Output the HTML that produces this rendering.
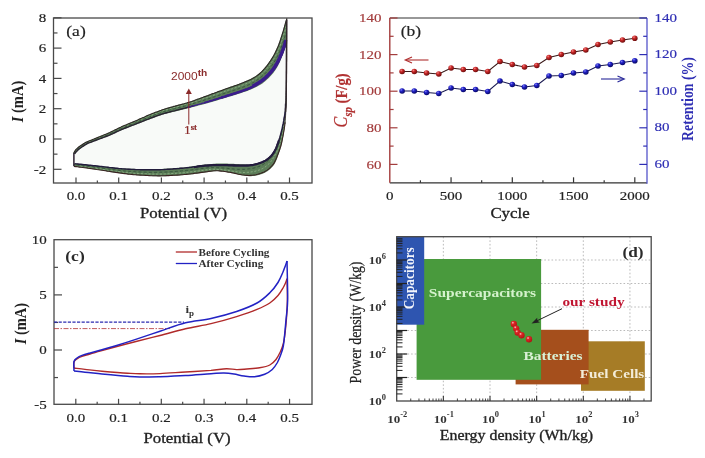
<!DOCTYPE html>
<html><head><meta charset="utf-8"><title>Figure</title>
<style>
html,body{margin:0;padding:0;background:#fff;}
body{width:705px;height:458px;overflow:hidden;font-family:"Liberation Serif",serif;}
svg{display:block;font-family:"Liberation Serif",serif;}
</style></head><body>
<svg width="705" height="458" viewBox="0 0 705 458">
<rect width="705" height="458" fill="#fff"/>
<g id="all" filter="url(#soft)">
<rect x="53.5" y="18" width="258.5" height="165" fill="#fff" stroke="#484848" stroke-width="1.3"/>
<line x1="76.0" y1="183" x2="76.0" y2="177.5" stroke="#484848" stroke-width="1.2" />
<text x="0" y="0" font-size="13.04" fill="#222" text-anchor="middle" font-weight="normal" font-style="normal" transform="translate(76.0 200.4) scale(1.15 1)"  stroke="#222" stroke-width="0.18">0.0</text>
<line x1="97.35" y1="183" x2="97.35" y2="180.5" stroke="#484848" stroke-width="1.2" />
<line x1="118.7" y1="183" x2="118.7" y2="177.5" stroke="#484848" stroke-width="1.2" />
<text x="0" y="0" font-size="13.04" fill="#222" text-anchor="middle" font-weight="normal" font-style="normal" transform="translate(118.7 200.4) scale(1.15 1)"  stroke="#222" stroke-width="0.18">0.1</text>
<line x1="140.05" y1="183" x2="140.05" y2="180.5" stroke="#484848" stroke-width="1.2" />
<line x1="161.4" y1="183" x2="161.4" y2="177.5" stroke="#484848" stroke-width="1.2" />
<text x="0" y="0" font-size="13.04" fill="#222" text-anchor="middle" font-weight="normal" font-style="normal" transform="translate(161.4 200.4) scale(1.15 1)"  stroke="#222" stroke-width="0.18">0.2</text>
<line x1="182.75" y1="183" x2="182.75" y2="180.5" stroke="#484848" stroke-width="1.2" />
<line x1="204.10000000000002" y1="183" x2="204.10000000000002" y2="177.5" stroke="#484848" stroke-width="1.2" />
<text x="0" y="0" font-size="13.04" fill="#222" text-anchor="middle" font-weight="normal" font-style="normal" transform="translate(204.10000000000002 200.4) scale(1.15 1)"  stroke="#222" stroke-width="0.18">0.3</text>
<line x1="225.45000000000002" y1="183" x2="225.45000000000002" y2="180.5" stroke="#484848" stroke-width="1.2" />
<line x1="246.8" y1="183" x2="246.8" y2="177.5" stroke="#484848" stroke-width="1.2" />
<text x="0" y="0" font-size="13.04" fill="#222" text-anchor="middle" font-weight="normal" font-style="normal" transform="translate(246.8 200.4) scale(1.15 1)"  stroke="#222" stroke-width="0.18">0.4</text>
<line x1="268.15" y1="183" x2="268.15" y2="180.5" stroke="#484848" stroke-width="1.2" />
<line x1="289.5" y1="183" x2="289.5" y2="177.5" stroke="#484848" stroke-width="1.2" />
<text x="0" y="0" font-size="13.04" fill="#222" text-anchor="middle" font-weight="normal" font-style="normal" transform="translate(289.5 200.4) scale(1.15 1)"  stroke="#222" stroke-width="0.18">0.5</text>
<line x1="53.5" y1="17.799999999999997" x2="61.5" y2="17.799999999999997" stroke="#484848" stroke-width="1.2" />
<text x="0" y="0" font-size="13.04" fill="#222" text-anchor="end" font-weight="normal" font-style="normal" transform="translate(46.3 21.999999999999996) scale(1.15 1)"  stroke="#222" stroke-width="0.18">8</text>
<line x1="53.5" y1="48.099999999999994" x2="61.5" y2="48.099999999999994" stroke="#484848" stroke-width="1.2" />
<text x="0" y="0" font-size="13.04" fill="#222" text-anchor="end" font-weight="normal" font-style="normal" transform="translate(46.3 52.3) scale(1.15 1)"  stroke="#222" stroke-width="0.18">6</text>
<line x1="53.5" y1="78.4" x2="61.5" y2="78.4" stroke="#484848" stroke-width="1.2" />
<text x="0" y="0" font-size="13.04" fill="#222" text-anchor="end" font-weight="normal" font-style="normal" transform="translate(46.3 82.60000000000001) scale(1.15 1)"  stroke="#222" stroke-width="0.18">4</text>
<line x1="53.5" y1="108.7" x2="61.5" y2="108.7" stroke="#484848" stroke-width="1.2" />
<text x="0" y="0" font-size="13.04" fill="#222" text-anchor="end" font-weight="normal" font-style="normal" transform="translate(46.3 112.9) scale(1.15 1)"  stroke="#222" stroke-width="0.18">2</text>
<line x1="53.5" y1="139.0" x2="61.5" y2="139.0" stroke="#484848" stroke-width="1.2" />
<text x="0" y="0" font-size="13.04" fill="#222" text-anchor="end" font-weight="normal" font-style="normal" transform="translate(46.3 143.2) scale(1.15 1)"  stroke="#222" stroke-width="0.18">0</text>
<line x1="53.5" y1="169.3" x2="61.5" y2="169.3" stroke="#484848" stroke-width="1.2" />
<text x="0" y="0" font-size="13.04" fill="#222" text-anchor="end" font-weight="normal" font-style="normal" transform="translate(46.3 173.5) scale(1.15 1)"  stroke="#222" stroke-width="0.18">-2</text>
<line x1="53.5" y1="32.95" x2="57.5" y2="32.95" stroke="#484848" stroke-width="1.2" />
<line x1="53.5" y1="63.25" x2="57.5" y2="63.25" stroke="#484848" stroke-width="1.2" />
<line x1="53.5" y1="93.55" x2="57.5" y2="93.55" stroke="#484848" stroke-width="1.2" />
<line x1="53.5" y1="123.85" x2="57.5" y2="123.85" stroke="#484848" stroke-width="1.2" />
<line x1="53.5" y1="154.15" x2="57.5" y2="154.15" stroke="#484848" stroke-width="1.2" />
<text x="0" y="0" font-size="14.50" fill="#222" text-anchor="middle" font-weight="bold" font-style="normal" transform="translate(23 101.5) scale(1.15 1) rotate(-90)" ><tspan font-style="italic">I</tspan> (mA)</text>
<text x="0" y="0" font-size="14.61" fill="#222" text-anchor="middle" font-weight="normal" font-style="normal" transform="translate(183.5 218.4) scale(1.15 1)"  stroke="#222" stroke-width="0.32">Potential (V)</text>
<text x="0" y="0" font-size="15.22" fill="#222" text-anchor="middle" font-weight="normal" font-style="normal" transform="translate(76 36) scale(1.15 1)"  stroke="#222" stroke-width="0.18">(a)</text>
<path d="M74.8,154.0 C75.1,153.7 75.8,152.7 76.5,152.0 C77.2,151.3 78.1,150.4 79.0,149.6 C79.9,148.8 80.7,148.3 82.0,147.4 C83.3,146.5 85.2,145.1 87.0,144.2 C88.8,143.3 90.7,142.7 92.5,142.0 C94.3,141.3 95.2,140.9 98.0,139.9 C100.8,138.9 105.3,137.3 109.0,135.8 C112.7,134.3 117.2,132.0 120.0,130.8 C122.8,129.6 122.5,129.8 125.5,128.6 C128.5,127.4 133.9,125.4 138.0,123.8 C142.1,122.2 145.8,120.7 150.0,119.2 C154.2,117.7 158.7,115.9 163.0,114.6 C167.3,113.3 171.5,112.4 176.0,111.3 C180.5,110.2 184.8,109.1 190.0,107.8 C195.2,106.5 201.7,104.8 207.5,103.2 C213.3,101.6 219.2,99.8 225.0,98.0 C230.8,96.2 238.0,94.0 242.4,92.6 C246.8,91.1 248.5,90.6 251.4,89.3 C254.3,88.0 257.5,86.5 259.9,85.0 C262.3,83.5 263.9,82.3 266.0,80.5 C268.1,78.7 270.6,76.2 272.4,74.0 C274.2,71.8 275.6,69.8 277.0,67.5 C278.4,65.2 279.4,63.0 280.5,60.5 C281.6,58.0 282.9,54.9 283.8,52.5 C284.7,50.1 285.5,47.1 285.8,46.0 L286.2,46 " fill="none"/>
<path d="M74.8,154.0 L74.9,153.8 L75.1,153.6 L75.3,153.4 L75.5,153.2 L75.7,152.9 L76.0,152.6 L76.2,152.3 L76.5,152.0 L76.8,151.7 L77.1,151.4 L77.4,151.1 L77.7,150.8 L78.0,150.5 L78.3,150.2 L78.7,149.9 L79.0,149.6 L79.3,149.3 L79.7,149.1 L80.0,148.8 L80.3,148.5 L80.7,148.3 L81.1,148.0 L81.5,147.7 L82.0,147.4 L82.5,147.0 L83.1,146.6 L83.7,146.2 L84.3,145.8 L85.0,145.4 L85.7,145.0 L86.3,144.6 L87.0,144.2 L87.7,143.9 L88.3,143.6 L89.0,143.3 L89.7,143.0 L90.4,142.8 L91.1,142.5 L91.8,142.3 L92.5,142.0 L93.1,141.7 L93.7,141.5 L94.3,141.3 L94.9,141.1 L95.5,140.8 L96.2,140.6 L97.0,140.3 L98.0,139.9 L99.1,139.5 L100.4,139.0 L101.7,138.5 L103.2,138.0 L104.6,137.5 L106.1,136.9 L107.6,136.4 L109.0,135.8 L110.4,135.2 L111.9,134.5 L113.4,133.9 L114.8,133.2 L116.3,132.5 L117.6,131.9 L118.9,131.3 L120.0,130.8 L120.9,130.4 L121.6,130.1 L122.2,129.9 L122.7,129.7 L123.2,129.5 L123.8,129.3 L124.5,129.0 L125.5,128.6 L126.7,128.1 L128.1,127.6 L129.7,127.0 L131.3,126.3 L133.0,125.7 L134.7,125.0 L136.4,124.4 L138.0,123.8 L139.5,123.2 L141.0,122.6 L142.5,122.1 L144.0,121.5 L145.4,120.9 L146.9,120.3 L148.5,119.8 L150.0,119.2 L151.6,118.6 L153.2,118.0 L154.8,117.4 L156.4,116.8 L158.1,116.2 L159.7,115.7 L161.4,115.1 L163.0,114.6 L164.6,114.1 L166.2,113.7 L167.8,113.3 L169.4,112.9 L171.1,112.5 L172.7,112.1 L174.3,111.7 L176.0,111.3 L177.7,110.9 L179.3,110.5 L181.0,110.1 L182.7,109.6 L184.4,109.2 L186.2,108.8 L188.1,108.3 L190.0,107.8 L192.0,107.3 L194.1,106.7 L196.3,106.2 L198.5,105.6 L200.8,105.0 L203.0,104.4 L205.3,103.8 L207.5,103.2 L209.7,102.6 L211.9,101.9 L214.1,101.3 L216.3,100.7 L218.4,100.0 L220.6,99.3 L222.8,98.7 L225.0,98.0 L227.2,97.3 L229.6,96.6 L231.9,95.9 L234.2,95.2 L236.5,94.5 L238.6,93.8 L240.6,93.2 L242.4,92.6 L243.9,92.1 L245.3,91.7 L246.4,91.3 L247.5,90.9 L248.4,90.5 L249.4,90.1 L250.4,89.7 L251.4,89.3 L252.5,88.8 L253.6,88.3 L254.7,87.8 L255.8,87.2 L256.9,86.7 L258.0,86.1 L259.0,85.6 L259.9,85.0 L260.8,84.5 L261.6,83.9 L262.4,83.4 L263.1,82.9 L263.8,82.3 L264.5,81.8 L265.2,81.2 L266.0,80.5 L266.8,79.8 L267.6,79.0 L268.5,78.2 L269.3,77.4 L270.1,76.5 L270.9,75.7 L271.7,74.8 L272.4,74.0 L273.1,73.2 L273.7,72.4 L274.3,71.6 L274.9,70.8 L275.4,70.0 L276.0,69.2 L276.5,68.3 L277.0,67.5 L277.5,66.7 L278.0,65.8 L278.4,65.0 L278.8,64.1 L279.3,63.2 L279.7,62.3 L280.1,61.4 L280.5,60.5 L280.9,59.5 L281.4,58.5 L281.8,57.5 L282.2,56.5 L282.7,55.4 L283.1,54.4 L283.5,53.4 L283.8,52.5 L284.1,51.6 L284.4,50.6 L284.7,49.7 L285.0,48.8 L285.3,47.9 L285.5,47.1 L285.7,46.5 L285.8,46.0 L286.2,46.0 L286.2,48.7 L286.2,52.2 L286.2,56.4 L286.1,61.1 L286.1,66.0 L286.1,71.0 L286.1,75.7 L286.0,80.0 L285.9,84.1 L285.9,88.3 L285.8,92.5 L285.7,96.6 L285.6,100.5 L285.5,104.1 L285.4,107.3 L285.3,110.0 L285.2,112.1 L285.0,113.7 L284.9,114.8 L284.8,115.7 L284.6,116.4 L284.5,117.0 L284.3,117.8 L284.1,118.7 L283.9,119.8 L283.7,120.9 L283.5,122.0 L283.3,123.1 L283.0,124.2 L282.8,125.3 L282.6,126.4 L282.3,127.5 L282.0,128.6 L281.8,129.7 L281.5,130.8 L281.2,131.8 L280.9,132.9 L280.6,134.0 L280.3,135.1 L280.0,136.2 L279.7,137.3 L279.3,138.4 L279.0,139.5 L278.6,140.6 L278.3,141.7 L277.9,142.8 L277.4,143.9 L277.0,145.0 L276.5,146.1 L276.0,147.3 L275.5,148.4 L275.0,149.6 L274.4,150.7 L273.9,151.8 L273.3,152.8 L272.7,153.7 L272.1,154.5 L271.5,155.3 L270.9,156.0 L270.2,156.7 L269.5,157.3 L268.9,157.9 L268.1,158.5 L267.4,159.0 L266.6,159.5 L265.9,160.0 L265.1,160.5 L264.3,160.9 L263.4,161.3 L262.5,161.7 L261.5,162.1 L260.5,162.4 L259.3,162.7 L258.1,163.0 L256.8,163.3 L255.4,163.6 L254.0,163.8 L252.6,164.0 L251.3,164.2 L250.0,164.3 L248.8,164.4 L247.6,164.4 L246.5,164.4 L245.4,164.4 L244.3,164.3 L243.2,164.3 L242.1,164.2 L241.0,164.2 L239.9,164.2 L238.9,164.1 L237.9,164.1 L236.8,164.0 L235.8,164.0 L234.8,163.9 L233.7,163.8 L232.5,163.8 L231.3,163.8 L229.9,163.7 L228.6,163.7 L227.2,163.6 L225.8,163.6 L224.4,163.5 L223.2,163.5 L222.0,163.5 L221.0,163.5 L220.2,163.5 L219.4,163.5 L218.7,163.5 L218.0,163.5 L217.2,163.6 L216.2,163.6 L215.0,163.7 L213.6,163.8 L212.0,163.9 L210.3,164.1 L208.5,164.2 L206.6,164.4 L204.7,164.6 L202.8,164.8 L201.0,165.0 L199.2,165.2 L197.4,165.5 L195.7,165.7 L193.9,166.0 L192.1,166.3 L190.3,166.5 L188.5,166.8 L186.7,167.0 L184.9,167.2 L183.1,167.4 L181.4,167.5 L179.6,167.7 L177.8,167.8 L176.0,167.9 L174.3,168.1 L172.5,168.2 L170.7,168.3 L169.0,168.4 L167.2,168.6 L165.5,168.7 L163.7,168.8 L161.9,168.9 L160.2,168.9 L158.4,169.0 L156.6,169.0 L154.8,169.1 L153.0,169.1 L151.2,169.1 L149.4,169.1 L147.6,169.0 L145.8,169.0 L144.0,169.0 L142.2,169.0 L140.5,169.0 L138.7,168.9 L137.0,168.9 L135.2,168.9 L133.5,168.8 L131.7,168.8 L130.0,168.7 L128.2,168.6 L126.5,168.5 L124.7,168.4 L123.0,168.3 L121.2,168.1 L119.5,168.0 L117.7,167.9 L116.0,167.7 L114.3,167.5 L112.6,167.4 L110.9,167.2 L109.3,167.0 L107.6,166.8 L105.9,166.6 L104.2,166.4 L102.5,166.2 L100.7,166.0 L98.9,165.8 L97.1,165.6 L95.2,165.4 L93.4,165.2 L91.6,165.1 L89.8,164.9 L88.0,164.7 L86.2,164.5 L84.3,164.3 L82.3,164.1 L80.4,164.0 L78.6,163.8 L77.0,163.6 L75.6,163.5 L74.6,163.4 Z" fill="#f8faf8"/>
<path d="M73.6,153.0 L73.7,152.8 L73.9,152.5 L74.0,152.2 L74.2,151.8 L74.5,151.4 L74.7,151.0 L74.9,150.7 L75.2,150.3 L75.5,150.0 L75.8,149.6 L76.1,149.3 L76.4,148.9 L76.7,148.6 L77.1,148.3 L77.4,147.9 L77.8,147.6 L78.2,147.3 L78.6,147.0 L79.0,146.6 L79.4,146.3 L79.9,146.0 L80.3,145.7 L80.9,145.4 L81.4,145.0 L82.0,144.6 L82.6,144.2 L83.3,143.8 L84.0,143.3 L84.7,142.9 L85.4,142.5 L86.1,142.1 L86.8,141.7 L87.5,141.4 L88.2,141.1 L88.9,140.8 L89.5,140.5 L90.2,140.3 L90.9,140.0 L91.6,139.8 L92.3,139.5 L92.9,139.2 L93.5,139.0 L94.1,138.7 L94.7,138.5 L95.3,138.2 L96.0,137.9 L96.8,137.6 L97.7,137.2 L98.8,136.8 L100.0,136.3 L101.4,135.7 L102.8,135.2 L104.3,134.6 L105.7,134.0 L107.2,133.4 L108.6,132.8 L110.0,132.2 L111.4,131.5 L112.9,130.8 L114.4,130.0 L115.8,129.3 L117.1,128.7 L118.4,128.0 L119.5,127.5 L120.4,127.1 L121.2,126.7 L121.8,126.5 L122.4,126.2 L123.0,126.0 L123.7,125.7 L124.5,125.3 L125.5,124.9 L126.8,124.4 L128.2,123.7 L129.7,123.1 L131.4,122.4 L133.1,121.6 L134.8,120.9 L136.4,120.2 L138.0,119.5 L139.5,118.8 L141.0,118.2 L142.5,117.5 L144.0,116.9 L145.4,116.2 L146.9,115.6 L148.5,114.9 L150.0,114.3 L151.6,113.7 L153.2,113.0 L154.8,112.4 L156.4,111.7 L158.1,111.1 L159.7,110.5 L161.4,109.9 L163.0,109.3 L164.6,108.8 L166.2,108.3 L167.8,107.8 L169.4,107.3 L171.1,106.9 L172.7,106.4 L174.3,106.0 L176.0,105.5 L177.7,105.0 L179.3,104.6 L181.0,104.2 L182.7,103.7 L184.4,103.2 L186.2,102.8 L188.1,102.2 L190.0,101.6 L192.0,100.9 L194.1,100.2 L196.3,99.4 L198.5,98.6 L200.8,97.7 L203.0,96.9 L205.3,96.0 L207.5,95.2 L209.7,94.4 L211.9,93.6 L214.1,92.8 L216.3,91.9 L218.4,91.1 L220.6,90.3 L222.8,89.5 L225.0,88.7 L227.2,87.9 L229.5,87.1 L231.7,86.3 L234.0,85.6 L236.2,84.8 L238.4,84.0 L240.5,83.3 L242.4,82.5 L244.2,81.8 L246.0,81.0 L247.6,80.3 L249.2,79.6 L250.8,78.9 L252.2,78.1 L253.6,77.3 L255.0,76.5 L256.3,75.7 L257.4,74.8 L258.5,74.0 L259.6,73.1 L260.6,72.2 L261.6,71.2 L262.6,70.2 L263.7,69.0 L264.8,67.7 L266.0,66.3 L267.1,64.8 L268.3,63.2 L269.4,61.6 L270.5,60.0 L271.5,58.5 L272.4,57.0 L273.2,55.6 L274.0,54.2 L274.7,52.9 L275.3,51.6 L275.9,50.3 L276.5,49.0 L277.1,47.8 L277.6,46.5 L278.1,45.3 L278.6,44.1 L279.0,43.0 L279.4,41.8 L279.8,40.7 L280.2,39.5 L280.6,38.3 L281.0,37.0 L281.5,35.6 L281.9,34.0 L282.4,32.4 L282.9,30.8 L283.4,29.2 L283.8,27.7 L284.2,26.2 L284.6,25.0 L284.9,23.9 L285.2,22.9 L285.4,21.9 L285.6,21.1 L285.8,20.4 L286.0,19.7 L286.1,19.1 L286.2,18.7 L287.1,18.5 L286.3,45.0 L285.8,46.0 L285.7,46.5 L285.5,47.1 L285.3,47.9 L285.0,48.8 L284.7,49.7 L284.4,50.6 L284.1,51.6 L283.8,52.5 L283.5,53.4 L283.1,54.4 L282.7,55.4 L282.2,56.5 L281.8,57.5 L281.4,58.5 L280.9,59.5 L280.5,60.5 L280.1,61.4 L279.7,62.3 L279.3,63.2 L278.8,64.1 L278.4,65.0 L278.0,65.8 L277.5,66.7 L277.0,67.5 L276.5,68.3 L276.0,69.2 L275.4,70.0 L274.9,70.8 L274.3,71.6 L273.7,72.4 L273.1,73.2 L272.4,74.0 L271.7,74.8 L270.9,75.7 L270.1,76.5 L269.3,77.4 L268.5,78.2 L267.6,79.0 L266.8,79.8 L266.0,80.5 L265.2,81.2 L264.5,81.8 L263.8,82.3 L263.1,82.9 L262.4,83.4 L261.6,83.9 L260.8,84.5 L259.9,85.0 L259.0,85.6 L258.0,86.1 L256.9,86.7 L255.8,87.2 L254.7,87.8 L253.6,88.3 L252.5,88.8 L251.4,89.3 L250.4,89.7 L249.4,90.1 L248.4,90.5 L247.5,90.9 L246.4,91.3 L245.3,91.7 L243.9,92.1 L242.4,92.6 L240.6,93.2 L238.6,93.8 L236.5,94.5 L234.2,95.2 L231.9,95.9 L229.6,96.6 L227.2,97.3 L225.0,98.0 L222.8,98.7 L220.6,99.3 L218.4,100.0 L216.3,100.7 L214.1,101.3 L211.9,101.9 L209.7,102.6 L207.5,103.2 L205.3,103.8 L203.0,104.4 L200.8,105.0 L198.5,105.6 L196.3,106.2 L194.1,106.7 L192.0,107.3 L190.0,107.8 L188.1,108.3 L186.2,108.8 L184.4,109.2 L182.7,109.6 L181.0,110.1 L179.3,110.5 L177.7,110.9 L176.0,111.3 L174.3,111.7 L172.7,112.1 L171.1,112.5 L169.4,112.9 L167.8,113.3 L166.2,113.7 L164.6,114.1 L163.0,114.6 L161.4,115.1 L159.7,115.7 L158.1,116.2 L156.4,116.8 L154.8,117.4 L153.2,118.0 L151.6,118.6 L150.0,119.2 L148.5,119.8 L146.9,120.3 L145.4,120.9 L144.0,121.5 L142.5,122.1 L141.0,122.6 L139.5,123.2 L138.0,123.8 L136.4,124.4 L134.7,125.0 L133.0,125.7 L131.3,126.3 L129.7,127.0 L128.1,127.6 L126.7,128.1 L125.5,128.6 L124.5,129.0 L123.8,129.3 L123.2,129.5 L122.7,129.7 L122.2,129.9 L121.6,130.1 L120.9,130.4 L120.0,130.8 L118.9,131.3 L117.6,131.9 L116.3,132.5 L114.8,133.2 L113.4,133.9 L111.9,134.5 L110.4,135.2 L109.0,135.8 L107.6,136.4 L106.1,136.9 L104.6,137.5 L103.2,138.0 L101.7,138.5 L100.4,139.0 L99.1,139.5 L98.0,139.9 L97.0,140.3 L96.2,140.6 L95.5,140.8 L94.9,141.1 L94.3,141.3 L93.7,141.5 L93.1,141.7 L92.5,142.0 L91.8,142.3 L91.1,142.5 L90.4,142.8 L89.7,143.0 L89.0,143.3 L88.3,143.6 L87.7,143.9 L87.0,144.2 L86.3,144.6 L85.7,145.0 L85.0,145.4 L84.3,145.8 L83.7,146.2 L83.1,146.6 L82.5,147.0 L82.0,147.4 L81.5,147.7 L81.1,148.0 L80.7,148.3 L80.3,148.5 L80.0,148.8 L79.7,149.1 L79.3,149.3 L79.0,149.6 L78.7,149.9 L78.3,150.2 L78.0,150.5 L77.7,150.8 L77.4,151.1 L77.1,151.4 L76.8,151.7 L76.5,152.0 L76.2,152.3 L76.0,152.6 L75.7,152.9 L75.5,153.2 L75.3,153.4 L75.1,153.6 L74.9,153.8 L74.8,154.0 Z" fill="#5b7d58"/>
<path d="M287.0,18.5 L287.0,21.7 L287.0,26.0 L286.9,31.1 L286.9,36.8 L286.9,42.7 L286.9,48.8 L286.8,54.6 L286.8,60.0 L286.8,65.3 L286.7,70.8 L286.7,76.4 L286.6,82.0 L286.6,87.3 L286.5,92.1 L286.5,96.4 L286.4,100.0 L286.3,102.7 L286.3,104.6 L286.2,106.0 L286.2,107.0 L286.1,107.7 L286.1,108.3 L286.0,109.0 L286.0,110.0 L286.0,111.1 L285.9,112.3 L285.9,113.4 L285.8,114.4 L285.8,115.5 L285.7,116.5 L285.7,117.6 L285.6,118.7 L285.5,119.8 L285.4,120.9 L285.3,122.0 L285.2,123.1 L285.1,124.2 L285.0,125.3 L284.8,126.4 L284.7,127.5 L284.6,128.6 L284.4,129.7 L284.2,130.8 L284.1,131.8 L283.9,132.9 L283.7,134.0 L283.5,135.1 L283.3,136.2 L283.1,137.3 L282.9,138.4 L282.7,139.5 L282.5,140.6 L282.3,141.7 L282.0,142.8 L281.8,143.9 L281.5,145.0 L281.2,146.1 L280.9,147.1 L280.6,148.2 L280.3,149.2 L280.0,150.3 L279.6,151.4 L279.2,152.5 L278.8,153.7 L278.3,155.0 L277.9,156.3 L277.4,157.7 L276.9,159.1 L276.3,160.4 L275.7,161.8 L275.1,163.0 L274.4,164.2 L273.7,165.3 L272.9,166.3 L272.0,167.2 L271.2,168.1 L270.3,169.0 L269.3,169.8 L268.4,170.5 L267.4,171.2 L266.4,171.8 L265.3,172.4 L264.3,173.0 L263.2,173.5 L262.0,173.9 L260.9,174.3 L259.8,174.7 L258.7,175.0 L257.6,175.3 L256.5,175.5 L255.4,175.7 L254.4,175.9 L253.3,176.0 L252.2,176.1 L251.1,176.2 L250.0,176.2 L248.9,176.2 L247.8,176.1 L246.7,176.0 L245.6,175.9 L244.5,175.7 L243.4,175.6 L242.3,175.4 L241.2,175.2 L240.1,175.0 L239.1,174.8 L238.0,174.5 L237.0,174.2 L235.9,174.0 L234.8,173.7 L233.7,173.4 L232.5,173.2 L231.2,173.0 L229.9,172.7 L228.5,172.5 L227.1,172.2 L225.8,172.0 L224.4,171.8 L223.2,171.6 L222.0,171.5 L221.0,171.4 L220.2,171.3 L219.4,171.2 L218.7,171.1 L218.0,171.1 L217.2,171.1 L216.2,171.1 L215.0,171.2 L213.6,171.3 L212.0,171.5 L210.3,171.7 L208.5,172.0 L206.6,172.2 L204.7,172.5 L202.8,172.8 L201.0,173.0 L199.2,173.2 L197.4,173.5 L195.7,173.7 L193.9,173.9 L192.1,174.2 L190.3,174.4 L188.5,174.6 L186.7,174.8 L184.9,175.0 L183.1,175.1 L181.4,175.3 L179.6,175.4 L177.8,175.5 L176.0,175.6 L174.3,175.7 L172.5,175.8 L170.7,175.9 L169.0,176.0 L167.2,176.1 L165.4,176.2 L163.7,176.2 L161.9,176.3 L160.2,176.3 L158.4,176.3 L156.6,176.3 L154.9,176.2 L153.1,176.2 L151.3,176.1 L149.5,176.0 L147.8,175.9 L146.0,175.8 L144.2,175.7 L142.4,175.6 L140.6,175.5 L138.9,175.4 L137.1,175.2 L135.3,175.1 L133.5,174.9 L131.8,174.8 L130.0,174.6 L128.2,174.4 L126.5,174.2 L124.7,174.0 L123.0,173.7 L121.2,173.5 L119.5,173.2 L117.7,173.0 L116.0,172.7 L114.3,172.4 L112.6,172.2 L110.9,171.9 L109.3,171.7 L107.6,171.4 L105.9,171.1 L104.2,170.9 L102.5,170.6 L100.7,170.3 L98.9,170.0 L97.1,169.8 L95.3,169.5 L93.4,169.2 L91.6,168.9 L89.8,168.7 L88.0,168.4 L86.1,168.1 L84.1,167.9 L82.1,167.6 L80.1,167.4 L78.2,167.1 L76.5,166.9 L75.1,166.7 L74.0,166.6 L73.6,164.5 L74.6,163.4 L75.6,163.5 L77.0,163.6 L78.6,163.8 L80.4,164.0 L82.3,164.1 L84.3,164.3 L86.2,164.5 L88.0,164.7 L89.8,164.9 L91.6,165.1 L93.4,165.2 L95.2,165.4 L97.1,165.6 L98.9,165.8 L100.7,166.0 L102.5,166.2 L104.2,166.4 L105.9,166.6 L107.6,166.8 L109.3,167.0 L110.9,167.2 L112.6,167.4 L114.3,167.5 L116.0,167.7 L117.7,167.9 L119.5,168.0 L121.2,168.1 L123.0,168.3 L124.7,168.4 L126.5,168.5 L128.2,168.6 L130.0,168.7 L131.7,168.8 L133.5,168.8 L135.2,168.9 L137.0,168.9 L138.7,168.9 L140.5,169.0 L142.2,169.0 L144.0,169.0 L145.8,169.0 L147.6,169.0 L149.4,169.1 L151.2,169.1 L153.0,169.1 L154.8,169.1 L156.6,169.0 L158.4,169.0 L160.2,168.9 L161.9,168.9 L163.7,168.8 L165.5,168.7 L167.2,168.6 L169.0,168.4 L170.7,168.3 L172.5,168.2 L174.3,168.1 L176.0,167.9 L177.8,167.8 L179.6,167.7 L181.4,167.5 L183.1,167.4 L184.9,167.2 L186.7,167.0 L188.5,166.8 L190.3,166.5 L192.1,166.3 L193.9,166.0 L195.7,165.7 L197.4,165.5 L199.2,165.2 L201.0,165.0 L202.8,164.8 L204.7,164.6 L206.6,164.4 L208.5,164.2 L210.3,164.1 L212.0,163.9 L213.6,163.8 L215.0,163.7 L216.2,163.6 L217.2,163.6 L218.0,163.5 L218.7,163.5 L219.4,163.5 L220.2,163.5 L221.0,163.5 L222.0,163.5 L223.2,163.5 L224.4,163.5 L225.8,163.6 L227.2,163.6 L228.6,163.7 L229.9,163.7 L231.3,163.8 L232.5,163.8 L233.7,163.8 L234.8,163.9 L235.8,164.0 L236.8,164.0 L237.9,164.1 L238.9,164.1 L239.9,164.2 L241.0,164.2 L242.1,164.2 L243.2,164.3 L244.3,164.3 L245.4,164.4 L246.5,164.4 L247.6,164.4 L248.8,164.4 L250.0,164.3 L251.3,164.2 L252.6,164.0 L254.0,163.8 L255.4,163.6 L256.8,163.3 L258.1,163.0 L259.3,162.7 L260.5,162.4 L261.5,162.1 L262.5,161.7 L263.4,161.3 L264.3,160.9 L265.1,160.5 L265.9,160.0 L266.6,159.5 L267.4,159.0 L268.1,158.5 L268.9,157.9 L269.5,157.3 L270.2,156.7 L270.9,156.0 L271.5,155.3 L272.1,154.5 L272.7,153.7 L273.3,152.8 L273.9,151.8 L274.4,150.7 L275.0,149.6 L275.5,148.4 L276.0,147.3 L276.5,146.1 L277.0,145.0 L277.4,143.9 L277.9,142.8 L278.3,141.7 L278.6,140.6 L279.0,139.5 L279.3,138.4 L279.7,137.3 L280.0,136.2 L280.3,135.1 L280.6,134.0 L280.9,132.9 L281.2,131.8 L281.5,130.8 L281.8,129.7 L282.0,128.6 L282.3,127.5 L282.6,126.4 L282.8,125.3 L283.0,124.2 L283.3,123.1 L283.5,122.0 L283.7,120.9 L283.9,119.8 L284.1,118.7 L284.3,117.8 L284.5,117.0 L284.6,116.4 L284.8,115.7 L284.9,114.8 L285.0,113.7 L285.2,112.1 L285.3,110.0 L285.4,107.3 L285.5,104.1 L285.6,100.5 L285.7,96.6 L285.8,92.5 L285.9,88.3 L285.9,84.1 L286.0,80.0 L286.1,75.7 L286.1,71.0 L286.1,66.0 L286.1,61.1 L286.2,56.4 L286.2,52.2 L286.2,48.7 L286.2,46.0 Z" fill="#5b7d58"/>
<path d="M73.9,153.3 L74.6,152.2 L75.3,151.1 L76.2,150.1 L77.1,149.1 L78.0,148.2 L79.1,147.4 L80.1,146.7 L81.2,145.9 L82.3,145.2 L83.4,144.5 L84.5,143.8 L85.6,143.1 L86.7,142.5 L87.9,141.9 L89.1,141.4 L90.4,141.0 L91.6,140.5 L92.8,140.0 L94.0,139.5 L95.2,139.0 L96.4,138.5 L97.6,138.0 L98.9,137.5 L100.1,137.1 L101.3,136.6 L102.5,136.1 L103.7,135.7 L105.0,135.2 L106.2,134.7 L107.4,134.2 L108.6,133.7 L109.8,133.2 L111.0,132.6 L112.1,132.0 L113.3,131.5 L114.5,130.9 L115.7,130.3 L116.9,129.7 L118.0,129.2 L119.2,128.6 L120.4,128.1 L121.6,127.5 L122.8,127.0 L124.0,126.5 L125.2,126.0 L126.4,125.5 L127.6,125.0 L128.8,124.5 L130.0,124.0 L131.3,123.5 L132.5,123.0 L133.7,122.5 L134.9,122.0 L136.1,121.5 L137.3,121.0 L138.5,120.5 L139.7,120.0 L140.9,119.5 L142.1,118.9 L143.3,118.4 L144.5,117.9 L145.7,117.4 L146.9,116.9 L148.1,116.4 L149.3,115.9 L150.6,115.4 L151.8,114.9 L153.0,114.5 L154.2,114.0 L155.4,113.5 L156.6,113.0 L157.9,112.6 L159.1,112.1 L160.3,111.7 L161.6,111.3 L162.8,110.8 L164.0,110.4 L165.3,110.1 L166.6,109.7 L167.8,109.3 L169.1,109.0 L170.3,108.6 L171.6,108.3 L172.9,107.9 L174.1,107.6 L175.4,107.3 L176.6,106.9 L177.9,106.6 L179.2,106.3 L180.4,105.9 L181.7,105.6 L183.0,105.3 L184.2,104.9 L185.5,104.6 L186.8,104.2 L188.0,103.9 L189.3,103.5 L190.5,103.1 L191.8,102.7 L193.0,102.3 L194.2,101.9 L195.5,101.4 L196.7,101.0 L197.9,100.6 L199.2,100.2 L200.4,99.7 L201.7,99.3 L202.9,98.9 L204.1,98.5 L205.4,98.0 L206.6,97.6 L207.8,97.2 L209.1,96.8 L210.3,96.3 L211.5,95.9 L212.8,95.5 L214.0,95.1 L215.2,94.6 L216.5,94.2 L217.7,93.8 L218.9,93.3 L220.2,92.9 L221.4,92.5 L222.6,92.0 L223.9,91.6 L225.1,91.2 L226.4,90.8 L227.6,90.4 L228.8,89.9 L230.1,89.5 L231.3,89.1 L232.6,88.7 L233.8,88.3 L235.0,87.9 L236.3,87.4 L237.5,87.0 L238.7,86.6 L240.0,86.1 L241.2,85.6 L242.4,85.2 L243.6,84.7 L244.8,84.2 L246.1,83.7 L247.3,83.2 L248.5,82.7 L249.6,82.1 L250.8,81.6 L252.0,81.0 L253.1,80.4 L254.2,79.7 L255.3,79.0 L256.4,78.3 L257.5,77.5 L258.5,76.8 L259.5,75.9 L260.5,75.1 L261.5,74.2 L262.4,73.3 L263.3,72.4 L264.2,71.5 L265.1,70.6 L266.0,69.6 L266.8,68.6 L267.6,67.6 L268.5,66.6 L269.3,65.6 L270.0,64.6 L270.8,63.5 L271.6,62.5 L272.3,61.4 L273.0,60.3 L273.7,59.2 L274.3,58.1 L275.0,56.9 L275.6,55.8 L276.2,54.6 L276.8,53.5 L277.3,52.3 L277.9,51.1 L278.4,49.9 L278.9,48.7 L279.4,47.5 L279.8,46.3 L280.3,45.1 L280.7,43.8 L281.2,42.6 L281.6,41.4 L282.0,40.1 L282.4,38.9 L282.8,37.6 L283.2,36.4 L283.6,35.2 L284.0,33.9 L284.4,32.7 L284.8,31.4 L285.1,30.1 L285.4,28.9 L285.8,27.6 L286.1,26.3" fill="none" stroke="#8fb086" stroke-width="0.9" stroke-dasharray="2.2 1.6"/>
<path d="M74.2,153.5 L74.9,152.4 L75.7,151.4 L76.5,150.4 L77.4,149.5 L78.4,148.6 L79.4,147.8 L80.4,147.1 L81.5,146.4 L82.5,145.6 L83.6,144.9 L84.7,144.2 L85.8,143.6 L86.9,142.9 L88.1,142.4 L89.3,141.9 L90.5,141.5 L91.7,141.0 L92.9,140.6 L94.1,140.1 L95.3,139.6 L96.5,139.1 L97.7,138.6 L98.9,138.2 L100.1,137.7 L101.3,137.2 L102.5,136.8 L103.7,136.3 L104.9,135.9 L106.1,135.4 L107.3,134.9 L108.5,134.4 L109.7,133.9 L110.8,133.4 L112.0,132.8 L113.2,132.3 L114.3,131.7 L115.5,131.2 L116.6,130.6 L117.8,130.1 L119.0,129.5 L120.1,129.0 L121.3,128.5 L122.5,128.0 L123.7,127.5 L124.9,127.0 L126.1,126.5 L127.3,126.0 L128.5,125.5 L129.6,125.0 L130.8,124.5 L132.0,124.1 L133.2,123.6 L134.4,123.1 L135.6,122.6 L136.8,122.1 L138.0,121.6 L139.2,121.1 L140.4,120.6 L141.6,120.1 L142.7,119.7 L143.9,119.2 L145.1,118.7 L146.3,118.2 L147.5,117.7 L148.7,117.2 L149.9,116.8 L151.1,116.3 L152.3,115.8 L153.5,115.4 L154.7,114.9 L155.9,114.4 L157.1,114.0 L158.3,113.6 L159.5,113.1 L160.8,112.7 L162.0,112.3 L163.2,111.9 L164.4,111.5 L165.7,111.1 L166.9,110.8 L168.1,110.4 L169.4,110.1 L170.6,109.8 L171.9,109.4 L173.1,109.1 L174.4,108.8 L175.6,108.5 L176.9,108.1 L178.1,107.8 L179.4,107.5 L180.6,107.2 L181.8,106.9 L183.1,106.5 L184.3,106.2 L185.6,105.9 L186.8,105.5 L188.0,105.2 L189.3,104.8 L190.5,104.4 L191.7,104.0 L193.0,103.7 L194.2,103.3 L195.4,102.9 L196.6,102.5 L197.9,102.1 L199.1,101.7 L200.3,101.3 L201.6,100.9 L202.8,100.6 L204.0,100.2 L205.2,99.8 L206.5,99.4 L207.7,99.0 L208.9,98.6 L210.1,98.2 L211.3,97.8 L212.6,97.4 L213.8,97.0 L215.0,96.6 L216.2,96.2 L217.4,95.8 L218.7,95.4 L219.9,95.0 L221.1,94.5 L222.3,94.1 L223.6,93.7 L224.8,93.3 L226.0,92.9 L227.2,92.5 L228.5,92.1 L229.7,91.7 L230.9,91.3 L232.1,90.9 L233.3,90.5 L234.6,90.1 L235.8,89.7 L237.0,89.3 L238.2,88.9 L239.4,88.4 L240.6,88.0 L241.8,87.6 L243.0,87.1 L244.3,86.7 L245.4,86.2 L246.6,85.7 L247.8,85.2 L249.0,84.7 L250.2,84.2 L251.3,83.6 L252.4,83.0 L253.6,82.4 L254.7,81.8 L255.7,81.1 L256.8,80.4 L257.8,79.6 L258.9,78.9 L259.9,78.1 L260.9,77.3 L261.8,76.5 L262.8,75.7 L263.7,74.8 L264.6,74.0 L265.5,73.1 L266.4,72.2 L267.3,71.2 L268.1,70.3 L269.0,69.3 L269.8,68.3 L270.6,67.3 L271.3,66.3 L272.1,65.3 L272.8,64.2 L273.5,63.2 L274.2,62.1 L274.9,61.0 L275.5,59.9 L276.2,58.8 L276.8,57.7 L277.4,56.5 L277.9,55.4 L278.5,54.2 L279.0,53.0 L279.5,51.8 L279.9,50.7 L280.4,49.5 L280.9,48.3 L281.3,47.1 L281.8,45.8 L282.2,44.6 L282.6,43.4 L283.1,42.2 L283.5,41.0 L283.9,39.8 L284.3,38.5 L284.7,37.3 L285.0,36.1 L285.3,34.8 L285.7,33.6 L286.0,32.4" fill="none" stroke="#34503a" stroke-width="0.9" stroke-dasharray="3 2.2"/>
<path d="M286.0,102.1 L285.9,103.8 L285.8,105.5 L285.6,107.2 L285.5,108.9 L285.4,110.6 L285.2,112.3 L285.1,114.0 L284.9,115.7 L284.7,117.4 L284.6,119.1 L284.4,120.8 L284.2,122.5 L284.0,124.2 L283.8,125.8 L283.5,127.5 L283.2,129.2 L282.9,130.9 L282.6,132.6 L282.3,134.2 L281.9,135.9 L281.5,137.6 L281.1,139.2 L280.7,140.9 L280.3,142.5 L279.8,144.1 L279.3,145.7 L278.8,147.3 L278.2,148.9 L277.5,150.4 L276.8,151.9 L276.0,153.4 L275.2,154.8 L274.4,156.2 L273.6,157.6 L272.7,158.9 L271.8,160.2 L270.9,161.5 L269.9,162.7 L268.8,163.9 L267.7,165.0 L266.4,166.0 L265.1,167.0 L263.7,167.9 L262.3,168.7 L260.8,169.4 L259.2,170.0 L257.6,170.5 L256.0,171.0 L254.4,171.4 L252.7,171.7 L251.0,172.0 L249.4,172.2 L247.7,172.3 L246.0,172.4 L244.2,172.5 L242.5,172.4 L240.8,172.3 L239.1,172.1 L237.4,171.9 L235.7,171.7 L234.0,171.5 L232.4,171.2 L230.7,170.9 L229.0,170.6 L227.3,170.4 L225.6,170.2 L224.0,170.0 L222.3,169.8 L220.6,169.7 L218.9,169.5 L217.2,169.4 L215.5,169.3 L213.8,169.2 L212.1,169.3 L210.4,169.4 L208.7,169.6 L207.0,169.8 L205.3,170.0 L203.6,170.3 L201.9,170.5 L200.2,170.7 L198.5,171.0 L196.8,171.2 L195.1,171.4 L193.4,171.6 L191.7,171.8 L190.0,172.0 L188.3,172.2 L186.6,172.4 L184.9,172.6 L183.2,172.8 L181.5,172.9 L179.8,173.1 L178.1,173.2 L176.4,173.3 L174.6,173.4 L172.9,173.5 L171.2,173.6 L169.5,173.7 L167.8,173.8 L166.1,173.9 L164.4,174.0 L162.7,174.0 L161.0,174.1 L159.3,174.1 L157.5,174.1 L155.8,174.1 L154.1,174.1 L152.4,174.1 L150.7,174.0 L149.0,174.0 L147.3,173.9 L145.6,173.8 L143.9,173.8 L142.1,173.7 L140.4,173.6 L138.7,173.5 L137.0,173.4 L135.3,173.3 L133.6,173.2 L131.9,173.0 L130.2,172.9 L128.5,172.7 L126.8,172.6 L125.1,172.4 L123.4,172.2 L121.7,172.0 L120.0,171.8 L118.3,171.5 L116.6,171.3 L114.9,171.1 L113.2,170.9 L111.5,170.6 L109.8,170.4 L108.1,170.1 L106.4,169.9 L104.7,169.6 L103.0,169.4 L101.3,169.1 L99.6,168.9 L98.0,168.7 L96.3,168.4 L94.6,168.2 L92.9,168.0 L91.2,167.7 L89.5,167.5 L87.8,167.3 L86.1,167.1 L84.4,166.8 L82.7,166.6 L81.0,166.4 L79.3,166.2 L77.6,166.0 L75.9,165.8 L74.2,165.6" fill="none" stroke="#8fb086" stroke-width="0.9" stroke-dasharray="2.2 1.6"/>
<path d="M285.6,106.6 L285.4,108.3 L285.2,109.9 L285.0,111.6 L284.9,113.2 L284.7,114.9 L284.5,116.5 L284.2,118.1 L284.0,119.8 L283.8,121.4 L283.5,123.1 L283.3,124.7 L283.0,126.3 L282.7,127.9 L282.4,129.6 L282.1,131.2 L281.7,132.8 L281.4,134.4 L281.0,136.0 L280.6,137.6 L280.1,139.2 L279.7,140.8 L279.2,142.4 L278.7,143.9 L278.2,145.5 L277.6,147.0 L277.0,148.5 L276.3,150.0 L275.5,151.4 L274.7,152.8 L273.8,154.1 L272.9,155.4 L271.9,156.7 L270.9,157.8 L269.9,159.0 L268.8,160.0 L267.7,161.0 L266.6,162.0 L265.4,162.9 L264.1,163.8 L262.8,164.6 L261.5,165.3 L260.1,166.0 L258.6,166.6 L257.1,167.1 L255.6,167.6 L254.1,168.0 L252.5,168.3 L250.9,168.6 L249.3,168.8 L247.7,169.0 L246.0,169.1 L244.4,169.3 L242.7,169.3 L241.1,169.3 L239.4,169.3 L237.7,169.3 L236.1,169.2 L234.4,169.1 L232.8,168.9 L231.1,168.8 L229.5,168.6 L227.9,168.4 L226.2,168.2 L224.6,168.1 L222.9,168.0 L221.3,167.9 L219.7,167.8 L218.0,167.8 L216.4,167.7 L214.7,167.7 L213.1,167.7 L211.4,167.6 L209.8,167.7 L208.1,167.7 L206.5,167.9 L204.8,168.1 L203.2,168.3 L201.5,168.5 L199.9,168.8 L198.2,169.0 L196.6,169.2 L195.0,169.5 L193.3,169.7 L191.7,169.9 L190.0,170.1 L188.4,170.3 L186.7,170.4 L185.1,170.6 L183.4,170.8 L181.8,170.9 L180.1,171.1 L178.4,171.2 L176.8,171.3 L175.1,171.5 L173.5,171.6 L171.8,171.7 L170.2,171.8 L168.5,171.9 L166.9,172.0 L165.2,172.1 L163.5,172.1 L161.9,172.2 L160.2,172.2 L158.6,172.3 L156.9,172.3 L155.2,172.3 L153.6,172.3 L151.9,172.3 L150.3,172.3 L148.6,172.2 L146.9,172.2 L145.3,172.1 L143.6,172.1 L142.0,172.0 L140.3,172.0 L138.6,171.9 L137.0,171.8 L135.3,171.8 L133.7,171.7 L132.0,171.6 L130.4,171.4 L128.7,171.3 L127.1,171.2 L125.4,171.0 L123.7,170.9 L122.1,170.7 L120.4,170.5 L118.8,170.3 L117.2,170.1 L115.5,169.9 L113.9,169.7 L112.2,169.5 L110.6,169.3 L108.9,169.1 L107.3,168.9 L105.6,168.6 L104.0,168.4 L102.3,168.2 L100.7,168.0 L99.1,167.8 L97.4,167.6 L95.8,167.3 L94.1,167.1 L92.5,166.9 L90.8,166.7 L89.2,166.5 L87.5,166.3 L85.9,166.1 L84.2,165.9 L82.6,165.8 L80.9,165.6 L79.3,165.4 L77.6,165.2 L76.0,165.0 L74.3,164.8" fill="none" stroke="#34503a" stroke-width="0.9" stroke-dasharray="3 2.2"/>
<path d="M73.7,153.1 L74.3,151.9 L75.0,150.8 L75.8,149.7 L76.7,148.8 L77.7,147.9 L78.7,147.0 L79.8,146.2 L80.9,145.5 L82.0,144.8 L83.1,144.0 L84.3,143.3 L85.4,142.6 L86.6,142.0 L87.8,141.4 L89.0,140.9 L90.2,140.4 L91.5,140.0 L92.7,139.5 L93.9,139.0 L95.2,138.4 L96.4,137.9 L97.6,137.4 L98.8,136.9 L100.1,136.4 L101.3,135.9 L102.6,135.5 L103.8,135.0 L105.0,134.5 L106.3,134.0 L107.5,133.5 L108.7,132.9 L109.9,132.4 L111.1,131.8 L112.3,131.2 L113.5,130.7 L114.7,130.1 L115.9,129.5 L117.1,128.9 L118.3,128.3 L119.5,127.7 L120.7,127.2 L121.9,126.6 L123.1,126.1 L124.3,125.6 L125.6,125.1 L126.8,124.6 L128.0,124.0 L129.2,123.5 L130.4,123.0 L131.7,122.5 L132.9,121.9 L134.1,121.4 L135.3,120.9 L136.6,120.4 L137.8,119.9 L139.0,119.3 L140.2,118.8 L141.4,118.3 L142.6,117.7 L143.9,117.2 L145.1,116.7 L146.3,116.1 L147.5,115.6 L148.7,115.1 L150.0,114.6 L151.2,114.1 L152.4,113.6 L153.7,113.1 L154.9,112.6 L156.1,112.1 L157.4,111.7 L158.6,111.2 L159.9,110.7 L161.1,110.3 L162.4,109.8 L163.6,109.4 L164.9,109.0 L166.2,108.6 L167.4,108.2 L168.7,107.9 L170.0,107.5 L171.3,107.1 L172.6,106.8 L173.8,106.4 L175.1,106.1 L176.4,105.7 L177.7,105.4 L179.0,105.0 L180.3,104.7 L181.5,104.4 L182.8,104.0 L184.1,103.7 L185.4,103.3 L186.7,103.0 L187.9,102.6 L189.2,102.2 L190.5,101.8 L191.7,101.4 L193.0,100.9 L194.2,100.5 L195.5,100.0 L196.7,99.6 L198.0,99.1 L199.2,98.7 L200.5,98.2 L201.7,97.8 L203.0,97.3 L204.2,96.8 L205.5,96.4 L206.7,95.9 L208.0,95.5 L209.2,95.0 L210.5,94.6 L211.7,94.1 L213.0,93.6 L214.2,93.2 L215.5,92.7 L216.7,92.3 L217.9,91.8 L219.2,91.3 L220.4,90.9 L221.7,90.4 L222.9,90.0 L224.2,89.5 L225.4,89.1 L226.7,88.6 L227.9,88.2 L229.2,87.8 L230.5,87.3 L231.7,86.9 L233.0,86.5 L234.2,86.1 L235.5,85.6 L236.7,85.2 L238.0,84.7 L239.2,84.3 L240.5,83.8 L241.7,83.3 L243.0,82.8 L244.2,82.3 L245.4,81.8 L246.6,81.3 L247.9,80.8 L249.1,80.2 L250.3,79.7 L251.5,79.1 L252.6,78.5 L253.8,77.8 L254.9,77.1 L256.0,76.4 L257.1,75.6 L258.2,74.8 L259.2,74.0 L260.2,73.1 L261.2,72.2 L262.1,71.3 L263.0,70.3 L263.9,69.3 L264.8,68.3 L265.6,67.3 L266.5,66.3 L267.3,65.3 L268.1,64.2 L268.9,63.1 L269.6,62.0 L270.4,61.0 L271.1,59.9 L271.8,58.7 L272.5,57.6 L273.2,56.5 L273.9,55.3 L274.5,54.2 L275.1,53.0 L275.7,51.8 L276.3,50.6 L276.8,49.4 L277.3,48.2 L277.9,46.9 L278.4,45.7 L278.9,44.5 L279.3,43.2 L279.8,42.0 L280.2,40.7 L280.6,39.5 L281.0,38.2 L281.4,36.9 L281.8,35.7 L282.2,34.4 L282.6,33.1 L283.0,31.9 L283.4,30.6 L283.8,29.3 L284.1,28.0 L284.5,26.8 L284.9,25.5 L285.2,24.2 L285.5,22.9 L285.9,21.6 L286.2,20.3" fill="none" stroke="#2e2826" stroke-width="1.1"/>
<path d="M287.0,20.1 L286.9,21.9 L286.9,23.7 L286.9,25.4 L286.9,27.2 L286.9,29.0 L286.9,30.7 L286.9,32.5 L286.9,34.2 L286.9,36.0 L286.9,37.8 L286.9,39.5 L286.9,41.3 L286.9,43.1 L286.8,44.8 L286.8,46.6 L286.8,48.3 L286.8,50.1 L286.8,51.9 L286.8,53.6 L286.8,55.4 L286.8,57.1 L286.8,58.9 L286.8,60.7 L286.7,62.4 L286.7,64.2 L286.7,66.0 L286.7,67.7 L286.7,69.5 L286.7,71.2 L286.7,73.0 L286.6,74.8 L286.6,76.5 L286.6,78.3 L286.6,80.0 L286.6,81.8 L286.5,83.6 L286.5,85.3 L286.5,87.1 L286.5,88.9 L286.5,90.6 L286.4,92.4 L286.4,94.1 L286.4,95.9 L286.4,97.7 L286.3,99.4 L286.3,101.2 L286.2,102.9 L286.2,104.7 L286.1,106.5 L286.0,108.2 L285.9,110.0 L285.8,111.7 L285.7,113.5 L285.6,115.2 L285.5,117.0 L285.4,118.8 L285.2,120.5 L285.1,122.3 L284.9,124.0" fill="none" stroke="#3a2c2c" stroke-width="0.8"/>
<path d="M285.1,122.3 L284.9,124.0 L284.7,125.8 L284.4,127.5 L284.2,129.3 L283.9,131.0 L283.6,132.7 L283.3,134.5 L283.0,136.2 L282.6,137.9 L282.3,139.6 L281.9,141.4 L281.6,143.1 L281.1,144.8 L280.7,146.5 L280.1,148.1 L279.6,149.8 L279.0,151.4 L278.4,153.1 L277.7,154.7 L277.1,156.3 L276.5,157.9 L275.8,159.5 L275.1,161.1 L274.3,162.6 L273.3,164.1 L272.3,165.4 L271.1,166.7 L269.9,167.9 L268.6,169.1 L267.2,170.1 L265.7,171.1 L264.2,171.9 L262.6,172.6 L260.9,173.3 L259.3,173.8 L257.6,174.3 L255.9,174.7 L254.2,175.0 L252.4,175.3 L250.6,175.4 L248.9,175.5 L247.1,175.4 L245.4,175.3 L243.6,175.0 L241.9,174.8 L240.1,174.5 L238.4,174.2 L236.7,173.8 L235.0,173.4 L233.3,173.0 L231.5,172.6 L229.8,172.3 L228.1,172.1 L226.3,171.8 L224.6,171.5 L222.9,171.3 L221.1,171.1 L219.4,170.9 L217.6,170.7 L215.9,170.7 L214.1,170.8 L212.3,171.0 L210.6,171.2 L208.8,171.4 L207.1,171.7 L205.4,171.9 L203.6,172.2 L201.9,172.4 L200.1,172.6 L198.4,172.9 L196.6,173.1 L194.9,173.3 L193.1,173.6 L191.4,173.8 L189.6,174.0 L187.9,174.2 L186.1,174.4 L184.4,174.5 L182.6,174.7 L180.9,174.8 L179.1,175.0 L177.3,175.1 L175.6,175.2 L173.8,175.3 L172.1,175.4 L170.3,175.5 L168.6,175.6 L166.8,175.6 L165.0,175.7 L163.3,175.8 L161.5,175.8 L159.8,175.9 L158.0,175.9 L156.2,175.8 L154.5,175.8 L152.7,175.8 L150.9,175.7 L149.2,175.6 L147.4,175.5 L145.7,175.4 L143.9,175.3 L142.2,175.2 L140.4,175.1 L138.6,175.0 L136.9,174.9 L135.1,174.7 L133.4,174.6 L131.6,174.4 L129.9,174.2 L128.1,174.1 L126.4,173.8 L124.6,173.6 L122.9,173.4 L121.1,173.1 L119.4,172.9 L117.6,172.6 L115.9,172.4 L114.1,172.1 L112.4,171.9 L110.7,171.6 L108.9,171.3 L107.2,171.1 L105.4,170.8 L103.7,170.5 L102.0,170.3 L100.2,170.0 L98.5,169.7 L96.7,169.5 L95.0,169.2 L93.2,168.9 L91.5,168.7 L89.8,168.4 L88.0,168.2 L86.3,167.9 L84.5,167.7 L82.8,167.5 L81.0,167.3 L79.3,167.1 L77.5,166.8 L75.8,166.6 L74.0,166.4" fill="none" stroke="#3a2424" stroke-width="1.1"/>
<path d="M74.6,153.8 L75.4,152.8 L76.2,151.9 L77.0,151.0 L77.9,150.1 L78.9,149.2 L79.8,148.5 L80.9,147.7 L81.9,147.0 L82.9,146.3 L84.0,145.6 L85.0,144.9 L86.1,144.3 L87.2,143.7 L88.3,143.2 L89.5,142.7 L90.7,142.3 L91.9,141.8 L93.0,141.4 L94.2,140.9 L95.4,140.5 L96.5,140.0 L97.7,139.6 L98.9,139.1 L100.1,138.7 L101.3,138.3 L102.4,137.8 L103.6,137.4 L104.8,136.9 L106.0,136.5 L107.1,136.0 L108.3,135.6 L109.5,135.1 L110.6,134.6 L111.7,134.1 L112.9,133.6 L114.0,133.0 L115.2,132.5 L116.3,131.9 L117.4,131.4 L118.6,130.9 L119.7,130.4 L120.9,129.9 L122.0,129.4 L123.2,128.9 L124.4,128.4 L125.5,128.0 L126.7,127.5 L127.9,127.1 L129.0,126.6 L130.2,126.2 L131.4,125.7 L132.5,125.2 L133.7,124.8 L134.9,124.3 L136.0,123.9 L137.2,123.4 L138.4,122.9 L139.5,122.5 L140.7,122.0 L141.9,121.6 L143.0,121.1 L144.2,120.6 L145.4,120.2 L146.6,119.7 L147.7,119.3 L148.9,118.8 L150.1,118.4 L151.2,117.9 L152.4,117.5 L153.6,117.0 L154.8,116.6 L156.0,116.2 L157.1,115.7 L158.3,115.3 L159.5,114.9 L160.7,114.5 L161.9,114.1 L163.1,113.7 L164.3,113.4 L165.5,113.0 L166.7,112.7 L167.9,112.4 L169.1,112.1 L170.3,111.7 L171.6,111.4 L172.8,111.1 L174.0,110.9 L175.2,110.6 L176.4,110.2 L177.7,109.9 L178.9,109.6 L180.1,109.3 L181.3,109.0 L182.5,108.7 L183.7,108.4 L185.0,108.1 L186.2,107.8 L187.4,107.4 L188.6,107.1 L189.8,106.8 L191.0,106.5 L192.2,106.1 L193.4,105.8" fill="none" stroke="#2a2432" stroke-width="1.4"/>
<path d="M187.4,107.4 L188.6,107.1 L189.8,106.8 L191.0,106.5 L192.2,106.1 L193.4,105.8 L194.6,105.5 L195.9,105.1 L197.1,104.8 L198.3,104.5 L199.5,104.1 L200.7,103.8 L201.9,103.4 L203.1,103.1 L204.3,102.8 L205.5,102.4 L206.7,102.1 L207.9,101.7 L209.1,101.4 L210.3,101.0 L211.5,100.6 L212.7,100.3 L213.9,99.9 L215.1,99.5 L216.3,99.2 L217.5,98.8 L218.7,98.4 L219.9,98.0 L221.1,97.7 L222.3,97.3 L223.5,96.9 L224.7,96.6 L225.9,96.2 L227.1,95.8 L228.3,95.4 L229.5,95.1 L230.7,94.7 L231.9,94.3 L233.1,93.9 L234.3,93.5 L235.5,93.2 L236.7,92.8 L237.9,92.4 L239.1,92.0 L240.3,91.6 L241.5,91.2 L242.6,90.8 L243.8,90.4 L245.0,89.9 L246.2,89.5 L247.4,89.1 L248.5,88.6 L249.7,88.1 L250.8,87.6 L252.0,87.1 L253.1,86.5 L254.2,86.0 L255.3,85.4 L256.4,84.8 L257.4,84.2 L258.5,83.5 L259.6,82.8 L260.6,82.2 L261.6,81.5 L262.6,80.7 L263.6,79.9 L264.6,79.1 L265.5,78.3 L266.4,77.5 L267.3,76.6 L268.2,75.7 L269.0,74.8 L269.9,73.9 L270.7,73.0 L271.5,72.0 L272.3,71.0 L273.1,70.1 L273.8,69.1 L274.6,68.0 L275.3,67.0 L275.9,65.9 L276.6,64.9 L277.2,63.8 L277.8,62.7 L278.4,61.6 L278.9,60.4 L279.4,59.3 L279.9,58.1 L280.4,57.0 L280.9,55.8 L281.4,54.7 L281.9,53.5 L282.3,52.4 L282.8,51.2 L283.2,50.0 L283.7,48.8 L284.1,47.7 L284.5,46.5 L284.8,45.3 L285.2,44.0 L285.5,42.8 L285.9,41.6" fill="none" stroke="#3b1c8c" stroke-width="1.3"/>
<path d="M204.3,102.8 L205.5,102.4 L206.7,102.1 L207.9,101.7 L209.1,101.4 L210.3,101.0 L211.5,100.6 L212.7,100.3 L213.9,99.9 L215.1,99.5 L216.3,99.2 L217.5,98.8 L218.7,98.4 L219.9,98.0 L221.1,97.7 L222.3,97.3 L223.5,96.9 L224.7,96.6 L225.9,96.2 L227.1,95.8 L228.3,95.4 L229.5,95.1 L230.7,94.7 L231.9,94.3 L233.1,93.9 L234.3,93.5 L235.5,93.2 L236.7,92.8 L237.9,92.4 L239.1,92.0 L240.3,91.6 L241.5,91.2 L242.6,90.8 L243.8,90.4 L245.0,89.9 L246.2,89.5 L247.4,89.1 L248.5,88.6 L249.7,88.1 L250.8,87.6 L252.0,87.1 L253.1,86.5 L254.2,86.0 L255.3,85.4 L256.4,84.8 L257.4,84.2 L258.5,83.5 L259.6,82.8 L260.6,82.2 L261.6,81.5 L262.6,80.7 L263.6,79.9 L264.6,79.1 L265.5,78.3 L266.4,77.5 L267.3,76.6 L268.2,75.7 L269.0,74.8 L269.9,73.9 L270.7,73.0 L271.5,72.0 L272.3,71.0 L273.1,70.1 L273.8,69.1 L274.6,68.0 L275.3,67.0 L275.9,65.9 L276.6,64.9 L277.2,63.8 L277.8,62.7 L278.4,61.6 L278.9,60.4 L279.4,59.3 L279.9,58.1 L280.4,57.0 L280.9,55.8 L281.4,54.7 L281.9,53.5 L282.3,52.4 L282.8,51.2 L283.2,50.0 L283.7,48.8 L284.1,47.7 L284.5,46.5 L284.8,45.3 L285.2,44.0 L285.5,42.8 L285.9,41.6" fill="none" stroke="#3b1c8c" stroke-width="1.9"/>
<path d="M221.1,97.7 L222.3,97.3 L223.5,96.9 L224.7,96.6 L225.9,96.2 L227.1,95.8 L228.3,95.4 L229.5,95.1 L230.7,94.7 L231.9,94.3 L233.1,93.9 L234.3,93.5 L235.5,93.2 L236.7,92.8 L237.9,92.4 L239.1,92.0 L240.3,91.6 L241.5,91.2 L242.6,90.8 L243.8,90.4 L245.0,89.9 L246.2,89.5 L247.4,89.1 L248.5,88.6 L249.7,88.1 L250.8,87.6 L252.0,87.1 L253.1,86.5 L254.2,86.0 L255.3,85.4 L256.4,84.8 L257.4,84.2 L258.5,83.5 L259.6,82.8 L260.6,82.2 L261.6,81.5 L262.6,80.7 L263.6,79.9 L264.6,79.1 L265.5,78.3 L266.4,77.5 L267.3,76.6 L268.2,75.7 L269.0,74.8 L269.9,73.9 L270.7,73.0 L271.5,72.0 L272.3,71.0 L273.1,70.1 L273.8,69.1 L274.6,68.0 L275.3,67.0 L275.9,65.9 L276.6,64.9 L277.2,63.8 L277.8,62.7 L278.4,61.6 L278.9,60.4 L279.4,59.3 L279.9,58.1 L280.4,57.0 L280.9,55.8 L281.4,54.7 L281.9,53.5 L282.3,52.4 L282.8,51.2 L283.2,50.0 L283.7,48.8 L284.1,47.7 L284.5,46.5 L284.8,45.3 L285.2,44.0 L285.5,42.8 L285.9,41.6" fill="none" stroke="#3b1c8c" stroke-width="2.5"/>
<path d="M252.4,86.2 L253.5,85.6 L254.6,85.0 L255.7,84.4 L256.8,83.7 L257.9,83.1 L258.9,82.4 L260.0,81.7 L261.0,81.0 L262.0,80.3 L263.0,79.5 L263.9,78.7 L264.9,77.9 L265.8,77.1 L266.7,76.2 L267.6,75.3 L268.5,74.4 L269.3,73.5 L270.1,72.6 L271.0,71.6 L271.8,70.6 L272.5,69.7 L273.3,68.7 L274.0,67.6 L274.7,66.6 L275.4,65.5 L276.1,64.5 L276.7,63.4 L277.3,62.3 L277.9,61.2 L278.5,60.1 L279.0,58.9 L279.5,57.8 L280.0,56.6 L280.5,55.5 L281.0,54.3 L281.5,53.1 L281.9,52.0 L282.4,50.8 L282.8,49.6 L283.3,48.4 L283.7,47.2 L284.1,46.0 L284.5,44.8 L284.9,43.6 L285.2,42.4 L285.5,41.2 L285.9,40.0" fill="none" stroke="#3b1c8c" stroke-width="3.2"/>
<path d="M286.3,43.2 L286.3,44.8 L286.3,46.4 L286.3,48.0 L286.3,49.6 L286.2,51.2 L286.2,52.8 L286.2,54.4 L286.2,55.9 L286.2,57.5 L286.2,59.1 L286.2,60.7 L286.2,62.3 L286.2,63.9 L286.2,65.5 L286.2,67.1 L286.2,68.6 L286.2,70.2 L286.1,71.8 L286.1,73.4 L286.1,75.0 L286.1,76.6 L286.1,78.2 L286.1,79.8 L286.0,81.3 L286.0,82.9 L286.0,84.5 L286.0,86.1 L285.9,87.7 L285.9,89.3 L285.9,90.9 L285.8,92.5 L285.8,94.0 L285.8,95.6 L285.7,97.2 L285.7,98.8 L285.7,100.4 L285.6,102.0 L285.6,103.6 L285.5,105.1" fill="none" stroke="#2c2434" stroke-width="0.7"/>
<path d="M285.6,103.6 L285.5,105.1 L285.5,106.7 L285.4,108.3 L285.3,109.9 L285.2,111.5 L285.1,113.1 L284.8,114.6 L284.5,116.2 L284.2,117.7 L283.9,119.3 L283.7,120.9 L283.4,122.4 L283.1,124.0 L282.7,125.5 L282.4,127.1 L282.1,128.6 L281.7,130.2 L281.3,131.7 L280.9,133.2 L280.5,134.8 L280.1,136.3 L279.7,137.8 L279.2,139.3 L278.7,140.8 L278.2,142.3 L277.6,143.8 L277.1,145.3 L276.5,146.8 L275.9,148.2 L275.2,149.7 L274.5,151.1 L273.7,152.4 L272.8,153.8 L271.9,155.0 L270.8,156.2 L269.7,157.3 L268.5,158.3 L267.3,159.2 L266.0,160.1 L264.7,160.9 L263.3,161.5 L261.9,162.1 L260.5,162.7 L259.0,163.1 L257.6,163.6 L256.1,163.9 L254.6,164.3 L253.0,164.6 L251.5,164.8 L250.0,165.0 L248.4,165.1 L246.8,165.2 L245.3,165.2 L243.7,165.2 L242.1,165.2 L240.6,165.2 L239.0,165.2 L237.4,165.1 L235.8,165.1 L234.2,165.0 L232.6,165.0 L231.1,164.9 L229.5,164.9 L227.9,164.8 L226.3,164.7 L224.7,164.7 L223.1,164.6 L221.5,164.6 L220.0,164.6 L218.4,164.6 L216.8,164.6 L215.2,164.7 L213.6,164.8 L212.1,164.9 L210.5,165.0 L208.9,165.1 L207.3,165.2 L205.7,165.3 L204.2,165.5 L202.6,165.6 L201.0,165.8 L199.4,166.0 L197.9,166.2 L196.3,166.5 L194.7,166.7 L193.2,166.9 L191.6,167.2 L190.0,167.4 L188.4,167.6 L186.9,167.7 L185.3,167.9 L183.7,168.1 L182.1,168.2 L180.5,168.3 L179.0,168.5 L177.4,168.6 L175.8,168.7 L174.2,168.8 L172.6,169.0 L171.0,169.1 L169.5,169.2 L167.9,169.3 L166.3,169.4 L164.7,169.5 L163.1,169.6 L161.5,169.6 L160.0,169.7 L158.4,169.7 L156.8,169.8 L155.2,169.8 L153.6,169.8 L152.0,169.8 L150.4,169.8 L148.8,169.8 L147.3,169.7 L145.7,169.7 L144.1,169.7 L142.5,169.7 L140.9,169.7 L139.3,169.6 L137.7,169.6 L136.1,169.6 L134.6,169.5 L133.0,169.4 L131.4,169.4 L129.8,169.3 L128.2,169.2 L126.6,169.1 L125.1,169.0 L123.5,168.9 L121.9,168.8 L120.3,168.6 L118.7,168.5 L117.1,168.3 L115.6,168.2 L114.0,168.0 L112.4,167.8 L110.8,167.6 L109.3,167.5 L107.7,167.3 L106.1,167.1 L104.5,166.9 L103.0,166.7 L101.4,166.5 L99.8,166.4 L98.2,166.2 L96.6,166.0 L95.1,165.8 L93.5,165.7 L91.9,165.5 L90.3,165.3 L88.8,165.2 L87.2,165.0 L85.6,164.8 L84.0,164.7 L82.4,164.5 L80.9,164.3 L79.3,164.2 L77.7,164.0 L76.1,163.9 L74.5,163.7" fill="none" stroke="#241a3e" stroke-width="1.4"/>
<path d="M279.0,140.2 L278.5,141.7 L278.0,143.2 L277.4,144.7 L276.9,146.1 L276.3,147.6 L275.6,149.1 L274.9,150.5 L274.2,151.9 L273.3,153.2 L272.4,154.5 L271.4,155.7 L270.3,156.8 L269.2,157.9 L268.0,158.8 L266.7,159.8 L265.4,160.6 L264.1,161.3 L262.7,162.0 L261.4,162.6 L259.9,163.1 L258.5,163.6 L257.0,164.0 L255.6,164.4 L254.0,164.8 L252.5,165.1 L251.0,165.3 L249.4,165.5 L247.9,165.6 L246.3,165.6 L244.7,165.7 L243.2,165.7 L241.6,165.7 L240.0,165.7 L238.4,165.7 L236.8,165.7 L235.2,165.6 L233.6,165.6 L232.0,165.5 L230.4,165.5 L228.8,165.4 L227.2,165.3 L225.6,165.3 L224.0,165.2 L222.4,165.1 L220.9,165.1 L219.3,165.1 L217.7,165.1 L216.1,165.2 L214.5,165.2 L212.9,165.3 L211.3,165.4 L209.7,165.5 L208.1,165.6 L206.6,165.7 L205.0,165.8 L203.4,165.9 L201.8,166.1 L200.2,166.3 L198.6,166.5 L197.0,166.8 L195.5,167.0 L193.9,167.2" fill="none" stroke="#241a3e" stroke-width="2.1"/>
<path d="M286.7,18.5 L286.5,60 L286.2,100 L285.6,112" fill="none" stroke="#30262a" stroke-width="1.3"/>
<path d="M73.9,153 L73.9,166.3" fill="none" stroke="#2a2030" stroke-width="1.5"/>
<text x="0" y="0" font-size="10.43" fill="#8a2a2a" text-anchor="start" font-weight="normal" font-style="normal" transform="translate(171 80) scale(1.15 1)" style="font-family:'Liberation Sans',sans-serif">2000<tspan font-size="85%" dy="-4" font-weight="bold">th</tspan></text>
<line x1="188.8" y1="124.5" x2="188.8" y2="93" stroke="#8a2a2a" stroke-width="1" />
<path d="M188.8,88.5 L185.8,94 L191.8,94 Z" fill="#8a2a2a"/>
<text x="0" y="0" font-size="11.74" fill="#8a2a2a" text-anchor="start" font-weight="normal" font-style="normal" transform="translate(184 134.3) scale(1.15 1)"  stroke="#8a2a2a" stroke-width="0.18">1<tspan font-size="63%" dy="-4.5" font-weight="bold">st</tspan></text>
<line x1="389.8" y1="18" x2="647" y2="18" stroke="#333" stroke-width="1.2" />
<line x1="389.8" y1="182.8" x2="647" y2="182.8" stroke="#333" stroke-width="1.3" />
<line x1="389.8" y1="18" x2="389.8" y2="182.8" stroke="#a33c3c" stroke-width="1.4" />
<line x1="647" y1="18" x2="647" y2="183.8" stroke="#5858cc" stroke-width="1.35" />
<text x="0" y="0" font-size="13.04" fill="#222" text-anchor="middle" font-weight="normal" font-style="normal" transform="translate(389.8 200) scale(1.15 1)"  stroke="#222" stroke-width="0.18">0</text>
<line x1="451.05" y1="182.8" x2="451.05" y2="177.3" stroke="#333" stroke-width="1.2" />
<text x="0" y="0" font-size="13.04" fill="#222" text-anchor="middle" font-weight="normal" font-style="normal" transform="translate(451.05 200) scale(1.15 1)"  stroke="#222" stroke-width="0.18">500</text>
<line x1="512.3" y1="182.8" x2="512.3" y2="177.3" stroke="#333" stroke-width="1.2" />
<text x="0" y="0" font-size="13.04" fill="#222" text-anchor="middle" font-weight="normal" font-style="normal" transform="translate(512.3 200) scale(1.15 1)"  stroke="#222" stroke-width="0.18">1000</text>
<line x1="573.55" y1="182.8" x2="573.55" y2="177.3" stroke="#333" stroke-width="1.2" />
<text x="0" y="0" font-size="13.04" fill="#222" text-anchor="middle" font-weight="normal" font-style="normal" transform="translate(573.55 200) scale(1.15 1)"  stroke="#222" stroke-width="0.18">1500</text>
<line x1="634.8" y1="182.8" x2="634.8" y2="177.3" stroke="#333" stroke-width="1.2" />
<text x="0" y="0" font-size="13.04" fill="#222" text-anchor="middle" font-weight="normal" font-style="normal" transform="translate(634.8 200) scale(1.15 1)"  stroke="#222" stroke-width="0.18">2000</text>
<line x1="420.425" y1="182.8" x2="420.425" y2="180.3" stroke="#333" stroke-width="1.2" />
<line x1="481.675" y1="182.8" x2="481.675" y2="180.3" stroke="#333" stroke-width="1.2" />
<line x1="542.925" y1="182.8" x2="542.925" y2="180.3" stroke="#333" stroke-width="1.2" />
<line x1="604.175" y1="182.8" x2="604.175" y2="180.3" stroke="#333" stroke-width="1.2" />
<line x1="389.8" y1="18.0" x2="397.5" y2="18.0" stroke="#a33c3c" stroke-width="1.2" />
<text x="0" y="0" font-size="13.04" fill="#a33c3c" text-anchor="end" font-weight="normal" font-style="normal" transform="translate(381.5 22.2) scale(1.15 1)"  stroke="#a33c3c" stroke-width="0.18">140</text>
<line x1="647" y1="18.0" x2="639.3" y2="18.0" stroke="#2f2fb4" stroke-width="1.2" />
<text x="0" y="0" font-size="13.04" fill="#2f2fb4" text-anchor="start" font-weight="normal" font-style="normal" transform="translate(654.6 21.6) scale(1.15 1)"  stroke="#2f2fb4" stroke-width="0.18">140</text>
<line x1="389.8" y1="54.6" x2="397.5" y2="54.6" stroke="#a33c3c" stroke-width="1.2" />
<text x="0" y="0" font-size="13.04" fill="#a33c3c" text-anchor="end" font-weight="normal" font-style="normal" transform="translate(381.5 58.800000000000004) scale(1.15 1)"  stroke="#a33c3c" stroke-width="0.18">120</text>
<line x1="647" y1="54.6" x2="639.3" y2="54.6" stroke="#2f2fb4" stroke-width="1.2" />
<text x="0" y="0" font-size="13.04" fill="#2f2fb4" text-anchor="start" font-weight="normal" font-style="normal" transform="translate(654.6 58.2) scale(1.15 1)"  stroke="#2f2fb4" stroke-width="0.18">120</text>
<line x1="389.8" y1="91.2" x2="397.5" y2="91.2" stroke="#a33c3c" stroke-width="1.2" />
<text x="0" y="0" font-size="13.04" fill="#a33c3c" text-anchor="end" font-weight="normal" font-style="normal" transform="translate(381.5 95.4) scale(1.15 1)"  stroke="#a33c3c" stroke-width="0.18">100</text>
<line x1="647" y1="91.2" x2="639.3" y2="91.2" stroke="#2f2fb4" stroke-width="1.2" />
<text x="0" y="0" font-size="13.04" fill="#2f2fb4" text-anchor="start" font-weight="normal" font-style="normal" transform="translate(654.6 94.8) scale(1.15 1)"  stroke="#2f2fb4" stroke-width="0.18">100</text>
<line x1="389.8" y1="127.80000000000001" x2="397.5" y2="127.80000000000001" stroke="#a33c3c" stroke-width="1.2" />
<text x="0" y="0" font-size="13.04" fill="#a33c3c" text-anchor="end" font-weight="normal" font-style="normal" transform="translate(381.5 132.0) scale(1.15 1)"  stroke="#a33c3c" stroke-width="0.18">80</text>
<line x1="647" y1="127.80000000000001" x2="639.3" y2="127.80000000000001" stroke="#2f2fb4" stroke-width="1.2" />
<text x="0" y="0" font-size="13.04" fill="#2f2fb4" text-anchor="start" font-weight="normal" font-style="normal" transform="translate(654.6 131.4) scale(1.15 1)"  stroke="#2f2fb4" stroke-width="0.18">80</text>
<line x1="389.8" y1="164.4" x2="397.5" y2="164.4" stroke="#a33c3c" stroke-width="1.2" />
<text x="0" y="0" font-size="13.04" fill="#a33c3c" text-anchor="end" font-weight="normal" font-style="normal" transform="translate(381.5 168.6) scale(1.15 1)"  stroke="#a33c3c" stroke-width="0.18">60</text>
<line x1="647" y1="164.4" x2="639.3" y2="164.4" stroke="#2f2fb4" stroke-width="1.2" />
<text x="0" y="0" font-size="13.04" fill="#2f2fb4" text-anchor="start" font-weight="normal" font-style="normal" transform="translate(654.6 168.0) scale(1.15 1)"  stroke="#2f2fb4" stroke-width="0.18">60</text>
<line x1="389.8" y1="36.3" x2="393.6" y2="36.3" stroke="#a33c3c" stroke-width="1.2" />
<line x1="647" y1="36.3" x2="643.2" y2="36.3" stroke="#2f2fb4" stroke-width="1.2" />
<line x1="389.8" y1="72.9" x2="393.6" y2="72.9" stroke="#a33c3c" stroke-width="1.2" />
<line x1="647" y1="72.9" x2="643.2" y2="72.9" stroke="#2f2fb4" stroke-width="1.2" />
<line x1="389.8" y1="109.5" x2="393.6" y2="109.5" stroke="#a33c3c" stroke-width="1.2" />
<line x1="647" y1="109.5" x2="643.2" y2="109.5" stroke="#2f2fb4" stroke-width="1.2" />
<line x1="389.8" y1="146.1" x2="393.6" y2="146.1" stroke="#a33c3c" stroke-width="1.2" />
<line x1="647" y1="146.1" x2="643.2" y2="146.1" stroke="#2f2fb4" stroke-width="1.2" />
<text x="0" y="0" font-size="16.00" fill="#b03030" text-anchor="middle" font-weight="normal" font-style="normal" transform="translate(347 100.5) scale(1.15 1) rotate(-90)"  stroke="#b03030" stroke-width="0.18"><tspan font-style="italic">C</tspan><tspan font-size="69%" font-style="italic" font-weight="bold" dy="4">sp</tspan><tspan dy="-4" font-weight="bold" font-size="91%"> (F/g)</tspan></text>
<text x="0" y="0" font-size="13.80" fill="#2f2fb4" text-anchor="middle" font-weight="bold" font-style="normal" transform="translate(692.8 99) scale(1.15 1) rotate(-90)" >Retention (%)</text>
<text x="0" y="0" font-size="14.61" fill="#222" text-anchor="middle" font-weight="normal" font-style="normal" transform="translate(510 218.4) scale(1.15 1)"  stroke="#222" stroke-width="0.32">Cycle</text>
<text x="0" y="0" font-size="15.22" fill="#222" text-anchor="middle" font-weight="normal" font-style="normal" transform="translate(411 36) scale(1.15 1)"  stroke="#222" stroke-width="0.18">(b)</text>
<defs><filter id="soft" x="0" y="0" width="100%" height="100%" filterUnits="userSpaceOnUse"><feGaussianBlur stdDeviation="0.45"/></filter></defs>
<defs><radialGradient id="gr" cx="35%" cy="30%" r="70%"><stop offset="0" stop-color="#f08a8a"/><stop offset="0.35" stop-color="#cc2a2a"/><stop offset="1" stop-color="#6e0c0c"/></radialGradient><radialGradient id="gb" cx="35%" cy="30%" r="70%"><stop offset="0" stop-color="#8a8af0"/><stop offset="0.35" stop-color="#2222cc"/><stop offset="1" stop-color="#0a0a66"/></radialGradient></defs>
<path d="M402.1,71.5 L414.3,71.5 L426.6,73.0 L438.8,74.0 L451.1,68.0 L463.3,69.5 L475.6,69.5 L487.8,71.5 L500.0,61.5 L512.3,64.5 L524.5,67.0 L536.8,65.5 L549.0,57.5 L561.3,54.5 L573.5,52.0 L585.8,50.0 L598.0,44.5 L610.3,42.0 L622.5,40.0 L634.8,38.2" fill="none" stroke="#3a1a1a" stroke-width="1.1"/>
<path d="M402.1,91.0 L414.3,91.0 L426.6,92.5 L438.8,93.5 L451.1,88.0 L463.3,89.5 L475.6,89.5 L487.8,91.5 L500.0,81.0 L512.3,84.5 L524.5,87.0 L536.8,85.5 L549.0,76.0 L561.3,75.5 L573.5,73.0 L585.8,72.0 L598.0,66.0 L610.3,64.5 L622.5,62.5 L634.8,60.7" fill="none" stroke="#1a1a50" stroke-width="1.1"/>
<circle cx="402.1" cy="71.5" r="2.8" fill="url(#gr)"/>
<circle cx="414.3" cy="71.5" r="2.8" fill="url(#gr)"/>
<circle cx="426.6" cy="73" r="2.8" fill="url(#gr)"/>
<circle cx="438.8" cy="74" r="2.8" fill="url(#gr)"/>
<circle cx="451.1" cy="68" r="2.8" fill="url(#gr)"/>
<circle cx="463.3" cy="69.5" r="2.8" fill="url(#gr)"/>
<circle cx="475.6" cy="69.5" r="2.8" fill="url(#gr)"/>
<circle cx="487.8" cy="71.5" r="2.8" fill="url(#gr)"/>
<circle cx="500.0" cy="61.5" r="2.8" fill="url(#gr)"/>
<circle cx="512.3" cy="64.5" r="2.8" fill="url(#gr)"/>
<circle cx="524.5" cy="67" r="2.8" fill="url(#gr)"/>
<circle cx="536.8" cy="65.5" r="2.8" fill="url(#gr)"/>
<circle cx="549.0" cy="57.5" r="2.8" fill="url(#gr)"/>
<circle cx="561.3" cy="54.5" r="2.8" fill="url(#gr)"/>
<circle cx="573.5" cy="52" r="2.8" fill="url(#gr)"/>
<circle cx="585.8" cy="50" r="2.8" fill="url(#gr)"/>
<circle cx="598.0" cy="44.5" r="2.8" fill="url(#gr)"/>
<circle cx="610.3" cy="42" r="2.8" fill="url(#gr)"/>
<circle cx="622.5" cy="40" r="2.8" fill="url(#gr)"/>
<circle cx="634.8" cy="38.2" r="2.8" fill="url(#gr)"/>
<circle cx="402.1" cy="91" r="2.8" fill="url(#gb)"/>
<circle cx="414.3" cy="91" r="2.8" fill="url(#gb)"/>
<circle cx="426.6" cy="92.5" r="2.8" fill="url(#gb)"/>
<circle cx="438.8" cy="93.5" r="2.8" fill="url(#gb)"/>
<circle cx="451.1" cy="88" r="2.8" fill="url(#gb)"/>
<circle cx="463.3" cy="89.5" r="2.8" fill="url(#gb)"/>
<circle cx="475.6" cy="89.5" r="2.8" fill="url(#gb)"/>
<circle cx="487.8" cy="91.5" r="2.8" fill="url(#gb)"/>
<circle cx="500.0" cy="81" r="2.8" fill="url(#gb)"/>
<circle cx="512.3" cy="84.5" r="2.8" fill="url(#gb)"/>
<circle cx="524.5" cy="87" r="2.8" fill="url(#gb)"/>
<circle cx="536.8" cy="85.5" r="2.8" fill="url(#gb)"/>
<circle cx="549.0" cy="76" r="2.8" fill="url(#gb)"/>
<circle cx="561.3" cy="75.5" r="2.8" fill="url(#gb)"/>
<circle cx="573.5" cy="73" r="2.8" fill="url(#gb)"/>
<circle cx="585.8" cy="72" r="2.8" fill="url(#gb)"/>
<circle cx="598.0" cy="66" r="2.8" fill="url(#gb)"/>
<circle cx="610.3" cy="64.5" r="2.8" fill="url(#gb)"/>
<circle cx="622.5" cy="62.5" r="2.8" fill="url(#gb)"/>
<circle cx="634.8" cy="60.7" r="2.8" fill="url(#gb)"/>
<line x1="428.5" y1="60" x2="406" y2="60" stroke="#b03030" stroke-width="1.1" />
<path d="M412,57 L405.3,60 L412,63" fill="none" stroke="#b03030" stroke-width="1.2" stroke-linejoin="miter"/>
<line x1="601" y1="79" x2="623" y2="79" stroke="#2a2a9a" stroke-width="1.1" />
<path d="M617.5,76 L624.2,79 L617.5,82" fill="none" stroke="#2a2a9a" stroke-width="1.2" stroke-linejoin="miter"/>
<rect x="54" y="239.7" width="258" height="164.60000000000002" fill="#fff" stroke="#484848" stroke-width="1.3"/>
<line x1="75.8" y1="404.3" x2="75.8" y2="398.8" stroke="#484848" stroke-width="1.2" />
<text x="0" y="0" font-size="13.04" fill="#222" text-anchor="middle" font-weight="normal" font-style="normal" transform="translate(75.8 422.4) scale(1.15 1)"  stroke="#222" stroke-width="0.18">0.0</text>
<line x1="97.175" y1="404.3" x2="97.175" y2="401.8" stroke="#484848" stroke-width="1.2" />
<line x1="118.55" y1="404.3" x2="118.55" y2="398.8" stroke="#484848" stroke-width="1.2" />
<text x="0" y="0" font-size="13.04" fill="#222" text-anchor="middle" font-weight="normal" font-style="normal" transform="translate(118.55 422.4) scale(1.15 1)"  stroke="#222" stroke-width="0.18">0.1</text>
<line x1="139.925" y1="404.3" x2="139.925" y2="401.8" stroke="#484848" stroke-width="1.2" />
<line x1="161.3" y1="404.3" x2="161.3" y2="398.8" stroke="#484848" stroke-width="1.2" />
<text x="0" y="0" font-size="13.04" fill="#222" text-anchor="middle" font-weight="normal" font-style="normal" transform="translate(161.3 422.4) scale(1.15 1)"  stroke="#222" stroke-width="0.18">0.2</text>
<line x1="182.675" y1="404.3" x2="182.675" y2="401.8" stroke="#484848" stroke-width="1.2" />
<line x1="204.05" y1="404.3" x2="204.05" y2="398.8" stroke="#484848" stroke-width="1.2" />
<text x="0" y="0" font-size="13.04" fill="#222" text-anchor="middle" font-weight="normal" font-style="normal" transform="translate(204.05 422.4) scale(1.15 1)"  stroke="#222" stroke-width="0.18">0.3</text>
<line x1="225.425" y1="404.3" x2="225.425" y2="401.8" stroke="#484848" stroke-width="1.2" />
<line x1="246.8" y1="404.3" x2="246.8" y2="398.8" stroke="#484848" stroke-width="1.2" />
<text x="0" y="0" font-size="13.04" fill="#222" text-anchor="middle" font-weight="normal" font-style="normal" transform="translate(246.8 422.4) scale(1.15 1)"  stroke="#222" stroke-width="0.18">0.4</text>
<line x1="268.175" y1="404.3" x2="268.175" y2="401.8" stroke="#484848" stroke-width="1.2" />
<line x1="289.55" y1="404.3" x2="289.55" y2="398.8" stroke="#484848" stroke-width="1.2" />
<text x="0" y="0" font-size="13.04" fill="#222" text-anchor="middle" font-weight="normal" font-style="normal" transform="translate(289.55 422.4) scale(1.15 1)"  stroke="#222" stroke-width="0.18">0.5</text>
<text x="0" y="0" font-size="13.04" fill="#222" text-anchor="end" font-weight="normal" font-style="normal" transform="translate(46.8 244.0) scale(1.15 1)"  stroke="#222" stroke-width="0.18">10</text>
<line x1="54" y1="294.9" x2="62" y2="294.9" stroke="#484848" stroke-width="1.2" />
<text x="0" y="0" font-size="13.04" fill="#222" text-anchor="end" font-weight="normal" font-style="normal" transform="translate(46.8 299.09999999999997) scale(1.15 1)"  stroke="#222" stroke-width="0.18">5</text>
<line x1="54" y1="350.0" x2="62" y2="350.0" stroke="#484848" stroke-width="1.2" />
<text x="0" y="0" font-size="13.04" fill="#222" text-anchor="end" font-weight="normal" font-style="normal" transform="translate(46.8 354.2) scale(1.15 1)"  stroke="#222" stroke-width="0.18">0</text>
<text x="0" y="0" font-size="13.04" fill="#222" text-anchor="end" font-weight="normal" font-style="normal" transform="translate(46.8 409.3) scale(1.15 1)"  stroke="#222" stroke-width="0.18">-5</text>
<line x1="54" y1="267.35" x2="58" y2="267.35" stroke="#484848" stroke-width="1.2" />
<line x1="54" y1="322.45" x2="58" y2="322.45" stroke="#484848" stroke-width="1.2" />
<line x1="54" y1="377.55" x2="58" y2="377.55" stroke="#484848" stroke-width="1.2" />
<text x="0" y="0" font-size="14.50" fill="#222" text-anchor="middle" font-weight="bold" font-style="normal" transform="translate(25.5 323.6) scale(1.15 1) rotate(-90)" ><tspan font-style="italic">I</tspan> (mA)</text>
<text x="0" y="0" font-size="14.61" fill="#222" text-anchor="middle" font-weight="normal" font-style="normal" transform="translate(187 443) scale(1.15 1)"  stroke="#222" stroke-width="0.32">Potential (V)</text>
<text x="0" y="0" font-size="15.22" fill="#2a2a2a" text-anchor="middle" font-weight="bold" font-style="normal" transform="translate(75 261) scale(1.15 1)" >(c)</text>
<line x1="54" y1="322.2" x2="184" y2="322.2" stroke="#2a2ab0" stroke-width="1.25" stroke-dasharray="3.2 1.4"/>
<line x1="54" y1="328.6" x2="170" y2="328.6" stroke="#b03030" stroke-width="0.8" stroke-dasharray="5 1.5 1.5 1.5"/>
<path d="M74.0,368.0 C74.0,367.0 73.5,363.5 74.0,362.0 C74.5,360.5 75.7,359.8 77.0,358.8 C78.3,357.9 79.8,357.1 82.0,356.3 C84.2,355.5 87.0,354.9 90.0,354.0 C93.0,353.1 95.8,352.4 100.0,351.2 C104.2,350.0 109.2,348.6 115.0,347.0 C120.8,345.4 127.5,343.6 135.0,341.7 C142.5,339.8 151.6,337.6 160.0,335.5 C168.4,333.4 177.0,330.8 185.5,328.8 C194.0,326.8 202.5,325.6 211.0,323.6 C219.5,321.6 228.9,319.0 236.6,316.6 C244.3,314.2 251.5,311.7 257.0,309.4 C262.5,307.1 266.3,305.3 269.8,303.0 C273.3,300.7 275.8,298.0 278.0,295.5 C280.2,293.0 281.8,290.1 283.0,288.0 C284.2,285.9 284.8,284.5 285.5,283.0 C286.2,281.5 286.8,279.5 287.0,278.8 " fill="none" stroke="#b02a2a" stroke-width="1.4"/>
<path d="M287.0,278.8 C287.1,282.3 287.5,293.5 287.4,300.0 C287.3,306.5 286.9,312.8 286.5,318.0 C286.1,323.2 285.8,326.8 285.3,331.0 C284.8,335.2 284.3,339.6 283.5,343.0 C282.7,346.4 281.8,348.8 280.5,351.5 C279.2,354.2 277.8,357.2 276.0,359.5 C274.2,361.8 272.5,363.6 269.8,365.0 C267.1,366.4 263.4,367.1 259.6,367.8 C255.8,368.5 250.6,368.7 246.8,369.0 C243.0,369.3 240.0,369.7 236.6,369.6 C233.2,369.6 230.7,368.6 226.4,368.7 C222.1,368.8 217.8,369.8 211.0,370.4 C204.2,370.9 194.0,371.5 185.5,372.0 C177.0,372.5 167.6,373.3 160.0,373.6 C152.4,373.9 145.4,373.9 140.0,373.8 C134.6,373.7 133.9,373.6 127.6,373.2 C121.3,372.8 109.1,371.8 102.0,371.2 C94.9,370.6 89.7,369.9 85.0,369.4 C80.3,368.9 75.8,368.2 74.0,368.0" fill="none" stroke="#b02a2a" stroke-width="1.4"/>
<path d="M74.0,371.0 C74.0,369.4 73.5,363.7 74.0,361.5 C74.5,359.3 75.7,359.0 77.0,358.0 C78.3,357.0 79.9,356.2 82.0,355.4 C84.1,354.6 86.4,354.0 89.4,353.2 C92.4,352.4 95.7,351.5 100.0,350.3 C104.3,349.1 109.2,347.8 115.0,346.0 C120.8,344.2 127.5,342.1 135.0,339.6 C142.5,337.1 151.6,334.0 160.0,331.2 C168.4,328.4 177.0,324.9 185.5,322.8 C194.0,320.7 202.5,320.4 211.0,318.5 C219.5,316.6 228.9,314.1 236.6,311.5 C244.3,308.9 251.5,306.1 257.0,303.0 C262.5,299.9 266.3,296.2 269.8,292.8 C273.3,289.4 275.8,286.0 278.0,282.5 C280.2,279.0 281.8,274.8 283.0,272.0 C284.2,269.2 284.8,267.3 285.5,265.5 C286.2,263.7 286.8,261.8 287.0,261.0" fill="none" stroke="#2222c4" stroke-width="1.5"/>
<path d="M287.0,261.0 C287.1,265.8 287.5,282.6 287.6,290.0 C287.7,297.4 287.7,300.6 287.4,305.6 C287.1,310.6 286.4,315.8 286.0,320.0 C285.6,324.2 285.4,326.7 285.0,331.0 C284.6,335.3 284.0,342.2 283.3,346.0 C282.6,349.8 282.0,351.2 281.0,354.0 C280.0,356.8 278.8,359.9 277.4,362.5 C275.9,365.1 274.4,367.6 272.3,369.5 C270.2,371.4 267.7,373.0 264.7,374.2 C261.7,375.4 257.9,376.4 254.5,376.7 C251.1,377.0 247.4,376.4 244.0,376.0 C240.6,375.6 237.3,374.5 234.0,374.0 C230.7,373.5 227.8,373.1 224.0,373.0 C220.2,372.9 217.4,373.3 211.0,373.7 C204.6,374.1 194.0,375.0 185.5,375.5 C177.0,376.0 167.6,376.4 160.0,376.7 C152.4,376.9 145.4,377.1 140.0,377.0 C134.6,376.9 133.9,376.8 127.6,376.3 C121.3,375.8 109.1,374.6 102.0,373.9 C94.9,373.2 89.7,372.8 85.0,372.3 C80.3,371.8 75.8,371.2 74.0,371.0" fill="none" stroke="#2222c4" stroke-width="1.5"/>
<line x1="175.8" y1="252" x2="197" y2="252" stroke="#b02a2a" stroke-width="1.3" />
<line x1="175.8" y1="263.5" x2="197" y2="263.5" stroke="#2222c4" stroke-width="1.3" />
<text x="0" y="0" font-size="9.74" fill="#333" text-anchor="start" font-weight="bold" font-style="normal" transform="translate(198.5 255.8) scale(1.15 1)" >Before Cycling</text>
<text x="0" y="0" font-size="9.74" fill="#333" text-anchor="start" font-weight="bold" font-style="normal" transform="translate(198.5 267.3) scale(1.15 1)" >After Cycling</text>
<text x="0" y="0" font-size="11.30" fill="#333" text-anchor="start" font-weight="bold" font-style="normal" transform="translate(185.5 313) scale(1.15 1)" >i<tspan font-size="69%" dy="3">p</tspan></text>
<rect x="396.7" y="236.7" width="254.50000000000006" height="164.3" fill="#fff" stroke="none"/>
<line x1="443.34999999999997" y1="236.7" x2="443.34999999999997" y2="401" stroke="#a8a8a8" stroke-width="0.8" stroke-dasharray="1.6 2"/>
<line x1="490.0" y1="236.7" x2="490.0" y2="401" stroke="#a8a8a8" stroke-width="0.8" stroke-dasharray="1.6 2"/>
<line x1="536.65" y1="236.7" x2="536.65" y2="401" stroke="#a8a8a8" stroke-width="0.8" stroke-dasharray="1.6 2"/>
<line x1="583.3" y1="236.7" x2="583.3" y2="401" stroke="#a8a8a8" stroke-width="0.8" stroke-dasharray="1.6 2"/>
<line x1="629.95" y1="236.7" x2="629.95" y2="401" stroke="#a8a8a8" stroke-width="0.8" stroke-dasharray="1.6 2"/>
<line x1="396.7" y1="377.5" x2="651.2" y2="377.5" stroke="#a8a8a8" stroke-width="0.8" stroke-dasharray="1.6 2"/>
<line x1="396.7" y1="354.0" x2="651.2" y2="354.0" stroke="#a8a8a8" stroke-width="0.8" stroke-dasharray="1.6 2"/>
<line x1="396.7" y1="330.5" x2="651.2" y2="330.5" stroke="#a8a8a8" stroke-width="0.8" stroke-dasharray="1.6 2"/>
<line x1="396.7" y1="307.0" x2="651.2" y2="307.0" stroke="#a8a8a8" stroke-width="0.8" stroke-dasharray="1.6 2"/>
<line x1="396.7" y1="283.5" x2="651.2" y2="283.5" stroke="#a8a8a8" stroke-width="0.8" stroke-dasharray="1.6 2"/>
<line x1="396.7" y1="260.0" x2="651.2" y2="260.0" stroke="#a8a8a8" stroke-width="0.8" stroke-dasharray="1.6 2"/>
<rect x="581" y="341.3" width="63.799999999999955" height="49.5" fill="#a67c25"/>
<rect x="515.6" y="329.8" width="73.0" height="54.599999999999966" fill="#a5501c"/>
<rect x="416.6" y="259" width="124.5" height="120.80000000000001" fill="#4a9a3c"/>
<rect x="396.7" y="236.7" width="27.5" height="88.0" fill="#2f55b0"/>
<rect x="396.7" y="236.7" width="254.50000000000006" height="164.3" fill="none" stroke="#484848" stroke-width="1.3"/>
<line x1="410.7430492977247" y1="401" x2="410.7430492977247" y2="398.5" stroke="#333" stroke-width="0.9" />
<line x1="418.95770653267226" y1="401" x2="418.95770653267226" y2="398.5" stroke="#333" stroke-width="0.9" />
<line x1="424.78609859544946" y1="401" x2="424.78609859544946" y2="398.5" stroke="#333" stroke-width="0.9" />
<line x1="429.30695070227523" y1="401" x2="429.30695070227523" y2="398.5" stroke="#333" stroke-width="0.9" />
<line x1="433.00075583039694" y1="401" x2="433.00075583039694" y2="398.5" stroke="#333" stroke-width="0.9" />
<line x1="436.12382356666507" y1="401" x2="436.12382356666507" y2="398.5" stroke="#333" stroke-width="0.9" />
<line x1="438.82914789317414" y1="401" x2="438.82914789317414" y2="398.5" stroke="#333" stroke-width="0.9" />
<line x1="441.2154130653445" y1="401" x2="441.2154130653445" y2="398.5" stroke="#333" stroke-width="0.9" />
<line x1="443.34999999999997" y1="401" x2="443.34999999999997" y2="396" stroke="#333" stroke-width="1.1" />
<line x1="457.3930492977247" y1="401" x2="457.3930492977247" y2="398.5" stroke="#333" stroke-width="0.9" />
<line x1="465.60770653267224" y1="401" x2="465.60770653267224" y2="398.5" stroke="#333" stroke-width="0.9" />
<line x1="471.43609859544944" y1="401" x2="471.43609859544944" y2="398.5" stroke="#333" stroke-width="0.9" />
<line x1="475.95695070227526" y1="401" x2="475.95695070227526" y2="398.5" stroke="#333" stroke-width="0.9" />
<line x1="479.650755830397" y1="401" x2="479.650755830397" y2="398.5" stroke="#333" stroke-width="0.9" />
<line x1="482.7738235666651" y1="401" x2="482.7738235666651" y2="398.5" stroke="#333" stroke-width="0.9" />
<line x1="485.4791478931742" y1="401" x2="485.4791478931742" y2="398.5" stroke="#333" stroke-width="0.9" />
<line x1="487.86541306534446" y1="401" x2="487.86541306534446" y2="398.5" stroke="#333" stroke-width="0.9" />
<line x1="490.0" y1="401" x2="490.0" y2="396" stroke="#333" stroke-width="1.1" />
<line x1="504.0430492977247" y1="401" x2="504.0430492977247" y2="398.5" stroke="#333" stroke-width="0.9" />
<line x1="512.2577065326723" y1="401" x2="512.2577065326723" y2="398.5" stroke="#333" stroke-width="0.9" />
<line x1="518.0860985954495" y1="401" x2="518.0860985954495" y2="398.5" stroke="#333" stroke-width="0.9" />
<line x1="522.6069507022753" y1="401" x2="522.6069507022753" y2="398.5" stroke="#333" stroke-width="0.9" />
<line x1="526.300755830397" y1="401" x2="526.300755830397" y2="398.5" stroke="#333" stroke-width="0.9" />
<line x1="529.4238235666651" y1="401" x2="529.4238235666651" y2="398.5" stroke="#333" stroke-width="0.9" />
<line x1="532.1291478931741" y1="401" x2="532.1291478931741" y2="398.5" stroke="#333" stroke-width="0.9" />
<line x1="534.5154130653445" y1="401" x2="534.5154130653445" y2="398.5" stroke="#333" stroke-width="0.9" />
<line x1="536.65" y1="401" x2="536.65" y2="396" stroke="#333" stroke-width="1.1" />
<line x1="550.6930492977247" y1="401" x2="550.6930492977247" y2="398.5" stroke="#333" stroke-width="0.9" />
<line x1="558.9077065326723" y1="401" x2="558.9077065326723" y2="398.5" stroke="#333" stroke-width="0.9" />
<line x1="564.7360985954494" y1="401" x2="564.7360985954494" y2="398.5" stroke="#333" stroke-width="0.9" />
<line x1="569.2569507022753" y1="401" x2="569.2569507022753" y2="398.5" stroke="#333" stroke-width="0.9" />
<line x1="572.9507558303969" y1="401" x2="572.9507558303969" y2="398.5" stroke="#333" stroke-width="0.9" />
<line x1="576.073823566665" y1="401" x2="576.073823566665" y2="398.5" stroke="#333" stroke-width="0.9" />
<line x1="578.7791478931741" y1="401" x2="578.7791478931741" y2="398.5" stroke="#333" stroke-width="0.9" />
<line x1="581.1654130653445" y1="401" x2="581.1654130653445" y2="398.5" stroke="#333" stroke-width="0.9" />
<line x1="583.3" y1="401" x2="583.3" y2="396" stroke="#333" stroke-width="1.1" />
<line x1="597.3430492977247" y1="401" x2="597.3430492977247" y2="398.5" stroke="#333" stroke-width="0.9" />
<line x1="605.5577065326722" y1="401" x2="605.5577065326722" y2="398.5" stroke="#333" stroke-width="0.9" />
<line x1="611.3860985954494" y1="401" x2="611.3860985954494" y2="398.5" stroke="#333" stroke-width="0.9" />
<line x1="615.9069507022753" y1="401" x2="615.9069507022753" y2="398.5" stroke="#333" stroke-width="0.9" />
<line x1="619.600755830397" y1="401" x2="619.600755830397" y2="398.5" stroke="#333" stroke-width="0.9" />
<line x1="622.723823566665" y1="401" x2="622.723823566665" y2="398.5" stroke="#333" stroke-width="0.9" />
<line x1="625.4291478931741" y1="401" x2="625.4291478931741" y2="398.5" stroke="#333" stroke-width="0.9" />
<line x1="627.8154130653445" y1="401" x2="627.8154130653445" y2="398.5" stroke="#333" stroke-width="0.9" />
<line x1="629.95" y1="401" x2="629.95" y2="396" stroke="#333" stroke-width="1.1" />
<line x1="643.9930492977247" y1="401" x2="643.9930492977247" y2="398.5" stroke="#333" stroke-width="0.9" />
<line x1="396.7" y1="393.9257951018964" x2="402.5" y2="393.9257951018964" stroke="#222" stroke-width="1.0" />
<line x1="396.7" y1="389.78765051408794" x2="402.5" y2="389.78765051408794" stroke="#222" stroke-width="1.0" />
<line x1="396.7" y1="386.8515902037929" x2="402.5" y2="386.8515902037929" stroke="#222" stroke-width="1.0" />
<line x1="396.7" y1="384.5742048981036" x2="402.5" y2="384.5742048981036" stroke="#222" stroke-width="1.0" />
<line x1="396.7" y1="382.71344561598437" x2="402.5" y2="382.71344561598437" stroke="#222" stroke-width="1.0" />
<line x1="396.7" y1="381.14019605966496" x2="402.5" y2="381.14019605966496" stroke="#222" stroke-width="1.0" />
<line x1="396.7" y1="379.77738530568934" x2="402.5" y2="379.77738530568934" stroke="#222" stroke-width="1.0" />
<line x1="396.7" y1="378.5753010281759" x2="402.5" y2="378.5753010281759" stroke="#222" stroke-width="1.0" />
<line x1="396.7" y1="377.5" x2="407.2" y2="377.5" stroke="#222" stroke-width="1.2" />
<line x1="396.7" y1="370.4257951018964" x2="402.5" y2="370.4257951018964" stroke="#222" stroke-width="1.0" />
<line x1="396.7" y1="366.28765051408794" x2="402.5" y2="366.28765051408794" stroke="#222" stroke-width="1.0" />
<line x1="396.7" y1="363.35159020379285" x2="402.5" y2="363.35159020379285" stroke="#222" stroke-width="1.0" />
<line x1="396.7" y1="361.0742048981036" x2="402.5" y2="361.0742048981036" stroke="#222" stroke-width="1.0" />
<line x1="396.7" y1="359.21344561598437" x2="402.5" y2="359.21344561598437" stroke="#222" stroke-width="1.0" />
<line x1="396.7" y1="357.64019605966496" x2="402.5" y2="357.64019605966496" stroke="#222" stroke-width="1.0" />
<line x1="396.7" y1="356.27738530568934" x2="402.5" y2="356.27738530568934" stroke="#222" stroke-width="1.0" />
<line x1="396.7" y1="355.0753010281759" x2="402.5" y2="355.0753010281759" stroke="#222" stroke-width="1.0" />
<line x1="396.7" y1="354.0" x2="407.2" y2="354.0" stroke="#222" stroke-width="1.2" />
<line x1="396.7" y1="346.9257951018964" x2="402.5" y2="346.9257951018964" stroke="#222" stroke-width="1.0" />
<line x1="396.7" y1="342.78765051408794" x2="402.5" y2="342.78765051408794" stroke="#222" stroke-width="1.0" />
<line x1="396.7" y1="339.85159020379285" x2="402.5" y2="339.85159020379285" stroke="#222" stroke-width="1.0" />
<line x1="396.7" y1="337.5742048981036" x2="402.5" y2="337.5742048981036" stroke="#222" stroke-width="1.0" />
<line x1="396.7" y1="335.71344561598437" x2="402.5" y2="335.71344561598437" stroke="#222" stroke-width="1.0" />
<line x1="396.7" y1="334.14019605966496" x2="402.5" y2="334.14019605966496" stroke="#222" stroke-width="1.0" />
<line x1="396.7" y1="332.77738530568934" x2="402.5" y2="332.77738530568934" stroke="#222" stroke-width="1.0" />
<line x1="396.7" y1="331.5753010281759" x2="402.5" y2="331.5753010281759" stroke="#222" stroke-width="1.0" />
<line x1="396.7" y1="330.5" x2="407.2" y2="330.5" stroke="#222" stroke-width="1.2" />
<line x1="396.7" y1="323.4257951018964" x2="402.5" y2="323.4257951018964" stroke="#222" stroke-width="1.0" />
<line x1="396.7" y1="319.28765051408794" x2="402.5" y2="319.28765051408794" stroke="#222" stroke-width="1.0" />
<line x1="396.7" y1="316.35159020379285" x2="402.5" y2="316.35159020379285" stroke="#222" stroke-width="1.0" />
<line x1="396.7" y1="314.0742048981036" x2="402.5" y2="314.0742048981036" stroke="#222" stroke-width="1.0" />
<line x1="396.7" y1="312.21344561598437" x2="402.5" y2="312.21344561598437" stroke="#222" stroke-width="1.0" />
<line x1="396.7" y1="310.64019605966496" x2="402.5" y2="310.64019605966496" stroke="#222" stroke-width="1.0" />
<line x1="396.7" y1="309.27738530568934" x2="402.5" y2="309.27738530568934" stroke="#222" stroke-width="1.0" />
<line x1="396.7" y1="308.0753010281759" x2="402.5" y2="308.0753010281759" stroke="#222" stroke-width="1.0" />
<line x1="396.7" y1="307.0" x2="407.2" y2="307.0" stroke="#222" stroke-width="1.2" />
<line x1="396.7" y1="299.9257951018964" x2="402.5" y2="299.9257951018964" stroke="#222" stroke-width="1.0" />
<line x1="396.7" y1="295.78765051408794" x2="402.5" y2="295.78765051408794" stroke="#222" stroke-width="1.0" />
<line x1="396.7" y1="292.85159020379285" x2="402.5" y2="292.85159020379285" stroke="#222" stroke-width="1.0" />
<line x1="396.7" y1="290.5742048981036" x2="402.5" y2="290.5742048981036" stroke="#222" stroke-width="1.0" />
<line x1="396.7" y1="288.71344561598437" x2="402.5" y2="288.71344561598437" stroke="#222" stroke-width="1.0" />
<line x1="396.7" y1="287.14019605966496" x2="402.5" y2="287.14019605966496" stroke="#222" stroke-width="1.0" />
<line x1="396.7" y1="285.77738530568934" x2="402.5" y2="285.77738530568934" stroke="#222" stroke-width="1.0" />
<line x1="396.7" y1="284.5753010281759" x2="402.5" y2="284.5753010281759" stroke="#222" stroke-width="1.0" />
<line x1="396.7" y1="283.5" x2="407.2" y2="283.5" stroke="#222" stroke-width="1.2" />
<line x1="396.7" y1="276.4257951018964" x2="402.5" y2="276.4257951018964" stroke="#222" stroke-width="1.0" />
<line x1="396.7" y1="272.28765051408794" x2="402.5" y2="272.28765051408794" stroke="#222" stroke-width="1.0" />
<line x1="396.7" y1="269.35159020379285" x2="402.5" y2="269.35159020379285" stroke="#222" stroke-width="1.0" />
<line x1="396.7" y1="267.0742048981036" x2="402.5" y2="267.0742048981036" stroke="#222" stroke-width="1.0" />
<line x1="396.7" y1="265.21344561598437" x2="402.5" y2="265.21344561598437" stroke="#222" stroke-width="1.0" />
<line x1="396.7" y1="263.64019605966496" x2="402.5" y2="263.64019605966496" stroke="#222" stroke-width="1.0" />
<line x1="396.7" y1="262.27738530568934" x2="402.5" y2="262.27738530568934" stroke="#222" stroke-width="1.0" />
<line x1="396.7" y1="261.0753010281759" x2="402.5" y2="261.0753010281759" stroke="#222" stroke-width="1.0" />
<line x1="396.7" y1="260.0" x2="407.2" y2="260.0" stroke="#222" stroke-width="1.2" />
<line x1="396.7" y1="252.92579510189643" x2="402.5" y2="252.92579510189643" stroke="#222" stroke-width="1.0" />
<line x1="396.7" y1="248.78765051408794" x2="402.5" y2="248.78765051408794" stroke="#222" stroke-width="1.0" />
<line x1="396.7" y1="245.85159020379288" x2="402.5" y2="245.85159020379288" stroke="#222" stroke-width="1.0" />
<line x1="396.7" y1="243.57420489810357" x2="402.5" y2="243.57420489810357" stroke="#222" stroke-width="1.0" />
<line x1="396.7" y1="241.71344561598437" x2="402.5" y2="241.71344561598437" stroke="#222" stroke-width="1.0" />
<line x1="396.7" y1="240.14019605966496" x2="402.5" y2="240.14019605966496" stroke="#222" stroke-width="1.0" />
<line x1="396.7" y1="238.77738530568934" x2="402.5" y2="238.77738530568934" stroke="#222" stroke-width="1.0" />
<text x="0" y="0" font-size="11.30" fill="#333" text-anchor="middle" font-weight="bold" font-style="normal" transform="translate(397.2 422.5) scale(1.15 1)" >10<tspan font-size="65%" dy="-5.5">-2</tspan></text>
<text x="0" y="0" font-size="11.30" fill="#333" text-anchor="middle" font-weight="bold" font-style="normal" transform="translate(443.84999999999997 422.5) scale(1.15 1)" >10<tspan font-size="65%" dy="-5.5">-1</tspan></text>
<text x="0" y="0" font-size="11.30" fill="#333" text-anchor="middle" font-weight="bold" font-style="normal" transform="translate(490.5 422.5) scale(1.15 1)" >10<tspan font-size="65%" dy="-5.5">0</tspan></text>
<text x="0" y="0" font-size="11.30" fill="#333" text-anchor="middle" font-weight="bold" font-style="normal" transform="translate(537.15 422.5) scale(1.15 1)" >10<tspan font-size="65%" dy="-5.5">1</tspan></text>
<text x="0" y="0" font-size="11.30" fill="#333" text-anchor="middle" font-weight="bold" font-style="normal" transform="translate(583.8 422.5) scale(1.15 1)" >10<tspan font-size="65%" dy="-5.5">2</tspan></text>
<text x="0" y="0" font-size="11.30" fill="#333" text-anchor="middle" font-weight="bold" font-style="normal" transform="translate(630.45 422.5) scale(1.15 1)" >10<tspan font-size="65%" dy="-5.5">3</tspan></text>
<text x="0" y="0" font-size="11.30" fill="#333" text-anchor="end" font-weight="bold" font-style="normal" transform="translate(386 405.3) scale(1.15 1)" >10<tspan font-size="65%" dy="-5.5">0</tspan></text>
<text x="0" y="0" font-size="11.30" fill="#333" text-anchor="end" font-weight="bold" font-style="normal" transform="translate(386 358.3) scale(1.15 1)" >10<tspan font-size="65%" dy="-5.5">2</tspan></text>
<text x="0" y="0" font-size="11.30" fill="#333" text-anchor="end" font-weight="bold" font-style="normal" transform="translate(386 311.3) scale(1.15 1)" >10<tspan font-size="65%" dy="-5.5">4</tspan></text>
<text x="0" y="0" font-size="11.30" fill="#333" text-anchor="end" font-weight="bold" font-style="normal" transform="translate(386 264.3) scale(1.15 1)" >10<tspan font-size="65%" dy="-5.5">6</tspan></text>
<text x="0" y="0" font-size="13.83" fill="#222" text-anchor="middle" font-weight="normal" font-style="normal" transform="translate(516.5 440) scale(1.15 1)"  stroke="#222" stroke-width="0.32">Energy density (Wh/kg)</text>
<text x="0" y="0" font-size="13.80" fill="#222" text-anchor="middle" font-weight="normal" font-style="normal" transform="translate(361.3 322.5) scale(1.15 1) rotate(-90)"  stroke="#222" stroke-width="0.18">Power density (W/kg)</text>
<text x="0" y="0" font-size="14.96" fill="#2a2a2a" text-anchor="middle" font-weight="bold" font-style="normal" transform="translate(633 256.5) scale(1.15 1)" >(d)</text>
<text x="0" y="0" font-size="13.48" fill="#d4f2cc" text-anchor="middle" font-weight="bold" font-style="normal" transform="translate(482.5 297) scale(1.15 1)" >Supercapacitors</text>
<text x="0" y="0" font-size="13.30" fill="#f2f4fb" text-anchor="middle" font-weight="bold" font-style="normal" transform="translate(414 278.3) scale(1.15 1) rotate(-90)" >Capacitors</text>
<text x="0" y="0" font-size="13.39" fill="#d9f0d6" text-anchor="middle" font-weight="bold" font-style="normal" transform="translate(553 360.3) scale(1.15 1)" >Batteries</text>
<text x="0" y="0" font-size="13.22" fill="#f3ecd9" text-anchor="middle" font-weight="bold" font-style="normal" transform="translate(612 378.3) scale(1.15 1)" >Fuel Cells</text>
<text x="0" y="0" font-size="13.30" fill="#c01832" text-anchor="middle" font-weight="bold" font-style="normal" transform="translate(593.5 306.3) scale(1.15 1)" >our study</text>
<line x1="562" y1="308.7" x2="536" y2="321.3" stroke="#222" stroke-width="1" />
<path d="M531.5,323.5 L537.2,317.8 L537.4,320.7 L540,322.6 Z" fill="#222"/>
<defs><radialGradient id="gd" cx="35%" cy="30%" r="70%"><stop offset="0" stop-color="#ffd0d0"/><stop offset="0.3" stop-color="#de2626"/><stop offset="1" stop-color="#b01515"/></radialGradient></defs>
<circle cx="513.8" cy="324" r="3.2" fill="url(#gd)"/>
<circle cx="516.2" cy="328.6" r="3.2" fill="url(#gd)"/>
<circle cx="517.7" cy="332.6" r="3.2" fill="url(#gd)"/>
<circle cx="521.5" cy="335.2" r="3.2" fill="url(#gd)"/>
<circle cx="529" cy="339.3" r="3.2" fill="url(#gd)"/>
</g>
</svg>
</body></html>
